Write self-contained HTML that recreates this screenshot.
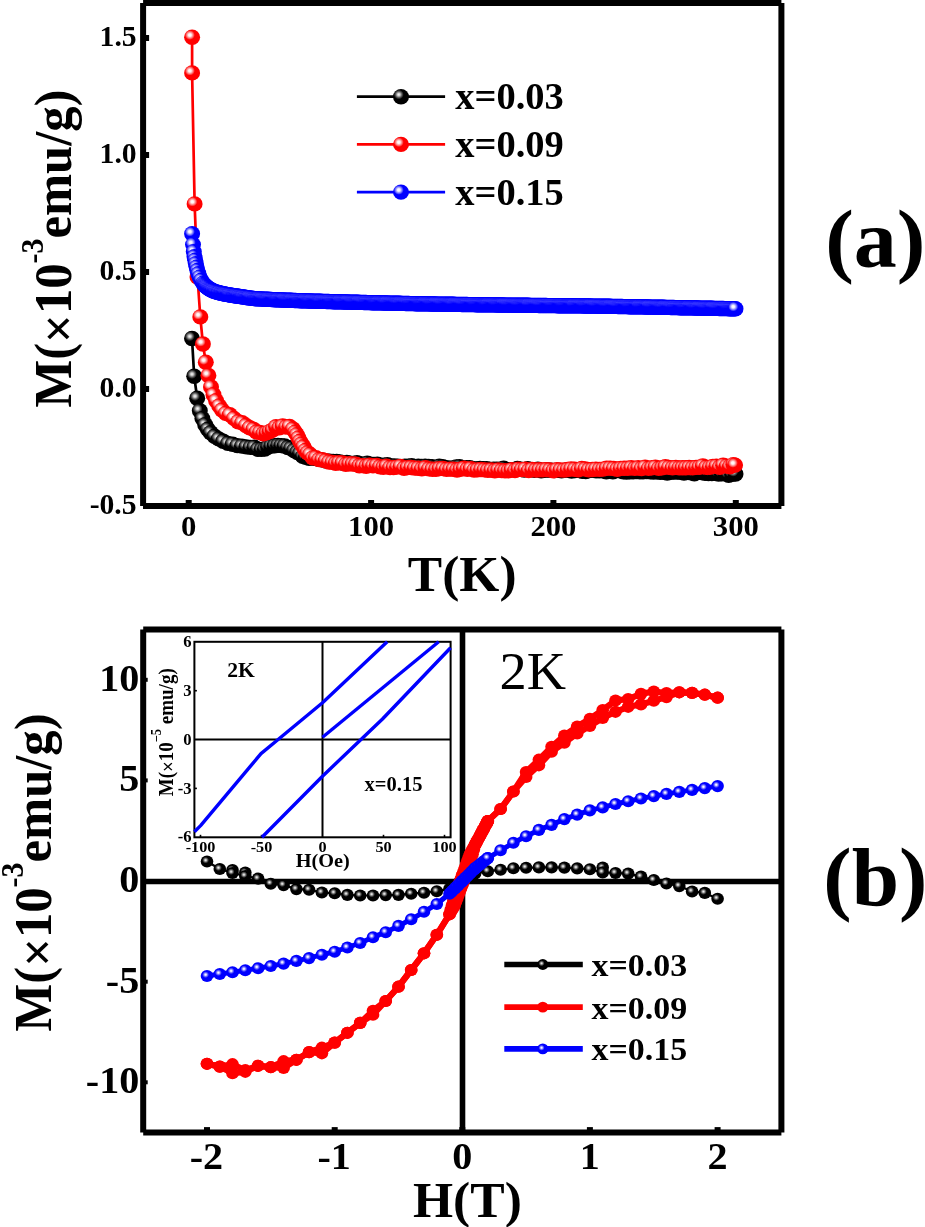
<!DOCTYPE html>
<html><head><meta charset="utf-8"><title>M-T and M-H curves</title>
<style>html,body{margin:0;padding:0;background:#fff;}body{width:925px;height:1227px;overflow:hidden;font-family:"Liberation Serif",serif;}svg{display:block;will-change:transform;}</style>
</head><body>
<svg width="925" height="1227" viewBox="0 0 925 1227" font-family="Liberation Serif, serif"><defs><radialGradient id="ra" cx="0.36" cy="0.36" fx="0.36" fy="0.36" r="0.31"><stop offset="0" stop-color="#fff"/><stop offset="0.28" stop-color="#fff0f0"/><stop offset="0.66" stop-color="#ff7a7a"/><stop offset="1" stop-color="#f00"/></radialGradient><radialGradient id="ka" cx="0.36" cy="0.36" fx="0.36" fy="0.36" r="0.31"><stop offset="0" stop-color="#f8f8f8"/><stop offset="0.28" stop-color="#cccccc"/><stop offset="0.66" stop-color="#555"/><stop offset="1" stop-color="#000"/></radialGradient><radialGradient id="ba" cx="0.36" cy="0.36" fx="0.36" fy="0.36" r="0.31"><stop offset="0" stop-color="#fff"/><stop offset="0.28" stop-color="#f0f0ff"/><stop offset="0.66" stop-color="#7a7aff"/><stop offset="1" stop-color="#00f"/></radialGradient><radialGradient id="kb" cx="0.39" cy="0.39" fx="0.39" fy="0.39" r="0.27"><stop offset="0" stop-color="#f4f4f4"/><stop offset="0.25" stop-color="#c8c8c8"/><stop offset="0.65" stop-color="#505050"/><stop offset="1" stop-color="#000"/></radialGradient><radialGradient id="bb" cx="0.39" cy="0.39" fx="0.39" fy="0.39" r="0.27"><stop offset="0" stop-color="#fff"/><stop offset="0.22" stop-color="#e6e6ff"/><stop offset="0.6" stop-color="#6a6aff"/><stop offset="1" stop-color="#00f"/></radialGradient></defs><line x1="143.1" y1="2.9" x2="143.1" y2="506" stroke="#000" stroke-width="6" stroke-linecap="butt"/>
<line x1="143.1" y1="506" x2="781.4" y2="506" stroke="#000" stroke-width="6" stroke-linecap="butt"/>
<line x1="781.4" y1="506" x2="781.4" y2="2.9" stroke="#000" stroke-width="6" stroke-linecap="butt"/>
<line x1="781.4" y1="2.9" x2="143.1" y2="2.9" stroke="#000" stroke-width="6" stroke-linecap="butt"/>
<line x1="188.7" y1="506" x2="188.7" y2="500" stroke="#000" stroke-width="6" stroke-linecap="butt"/>
<line x1="371.1" y1="506" x2="371.1" y2="500" stroke="#000" stroke-width="6" stroke-linecap="butt"/>
<line x1="553.4" y1="506" x2="553.4" y2="500" stroke="#000" stroke-width="6" stroke-linecap="butt"/>
<line x1="735.8" y1="506" x2="735.8" y2="500" stroke="#000" stroke-width="6" stroke-linecap="butt"/>
<line x1="143.1" y1="506" x2="149.1" y2="506" stroke="#000" stroke-width="6" stroke-linecap="butt"/>
<line x1="143.1" y1="389" x2="149.1" y2="389" stroke="#000" stroke-width="6" stroke-linecap="butt"/>
<line x1="143.1" y1="272" x2="149.1" y2="272" stroke="#000" stroke-width="6" stroke-linecap="butt"/>
<line x1="143.1" y1="155" x2="149.1" y2="155" stroke="#000" stroke-width="6" stroke-linecap="butt"/>
<line x1="143.1" y1="38" x2="149.1" y2="38" stroke="#000" stroke-width="6" stroke-linecap="butt"/>
<path d="M192 338.5 L194.2 376.3 L197.2 398.3 L199.8 410.8 L202.4 418.6 L205.2 424.8 L205.4 425.1 L205.6 425.5 L205.9 426 L206.3 426.5 L206.6 427.1 L207 427.7 L207.4 428.3 L207.8 428.9 L208.1 429.5 L208.5 430 L208.9 430.5 L209.2 431 L209.6 431.4 L209.9 431.9 L210.3 432.3 L210.7 432.8 L211.1 433.2 L211.4 433.6 L211.8 434 L212.2 434.4 L212.6 434.8 L213 435.1 L213.3 435.5 L213.7 435.8 L214.1 436.1 L214.5 436.4 L214.8 436.7 L215.2 437 L215.6 437.3 L216 437.6 L216.4 437.9 L216.8 438.1 L217.2 438.4 L217.5 438.6 L217.9 438.9 L218.3 439.1 L218.7 439.3 L219.1 439.6 L219.6 439.8 L220 440 L220.5 440.2 L220.9 440.4 L221.4 440.6 L221.9 440.9 L222.4 441.1 L223 441.3 L223.5 441.5 L224 441.6 L224.5 441.8 L225 442 L225.5 442.2 L225.9 442.3 L226.3 442.4 L226.8 442.6 L227.2 442.7 L227.6 442.8 L228.1 442.9 L228.7 443.1 L229.3 443.2 L230 443.4 L230.8 443.6 L231.7 443.8 L232.6 444 L233.6 444.2 L234.6 444.5 L235.7 444.7 L236.8 444.9 L237.9 445.2 L238.9 445.4 L240 445.6 L241.1 445.8 L242.1 446 L243.2 446.2 L244.3 446.3 L245.4 446.5 L246.6 446.7 L247.7 446.9 L248.8 447 L249.9 447.2 L251 447.4 L252.1 447.6 L253.2 447.8 L254.3 448.1 L255.4 448.3 L256.6 448.6 L257.7 448.8 L258.8 449 L259.9 449.1 L260.9 449.2 L262 449.2 L263 449.1 L264 449 L265 448.8 L266 448.5 L267 448.2 L268 447.9 L269 447.6 L270 447.3 L271 447 L272 446.8 L273.1 446.6 L274.1 446.4 L275.2 446.2 L276.3 446 L277.4 445.8 L278.6 445.6 L279.7 445.5 L280.8 445.4 L281.9 445.5 L283 445.6 L284.1 445.8 L285.2 446.1 L286.3 446.5 L287.4 447 L288.5 447.5 L289.6 448 L290.7 448.6 L291.8 449.2 L292.9 449.7 L294 450.3 L295.1 450.9 L296.2 451.5 L297.3 452.2 L298.4 452.9 L299.5 453.6 L300.6 454.3 L301.7 454.9 L302.8 455.6 L303.9 456.1 L305 456.6 L306.1 457 L307.2 457.3 L308.2 457.6 L309.3 457.9 L310.3 458.1 L311.4 458.2 L312.5 458.4 L313.6 458.6 L314.8 458.8 L316 459 L317.3 459.2 L318.6 459.5 L320 459.7 L321.4 459.9 L322.8 460.2 L324.3 460.4 L325.7 460.6 L327.2 460.8 L328.6 461 L330 461.2 L331.3 461.4 L332.3 461.5 L333.2 461.6 L334 461.7 L334.9 461.9 L336 462 L337.4 462.1 L339.1 462.2 L341.3 462.4 L344 462.6 L347.4 462.8 L351.3 463.1 L355.6 463.4 L360.4 463.7 L365.4 464 L370.5 464.3 L375.8 464.7 L381 465 L386.1 465.2 L391 465.5 L395.8 465.7 L400.6 465.9 L405.4 466.1 L410.2 466.3 L415 466.5 L419.8 466.7 L424.6 466.8 L429.4 467 L434.2 467.1 L439 467.3 L443.7 467.5 L448.4 467.6 L453.1 467.7 L457.8 467.9 L462.5 468 L467.2 468.1 L471.9 468.2 L476.6 468.4 L481.3 468.5 L486 468.6 L490.7 468.7 L495.2 468.8 L499.7 469 L504.2 469.1 L508.8 469.2 L513.4 469.3 L518.2 469.4 L523.2 469.6 L528.4 469.7 L534 469.8 L539.9 469.9 L546.1 470 L552.5 470.2 L559.2 470.3 L566 470.4 L572.9 470.5 L579.9 470.6 L587 470.8 L594 470.9 L601 471 L608 471.1 L615.2 471.2 L622.5 471.3 L629.9 471.4 L637.3 471.5 L644.6 471.7 L651.9 471.8 L659.1 471.9 L666.2 472 L673 472.2 L679.9 472.4 L687.1 472.6 L694.4 472.8 L701.7 473.1 L708.8 473.3 L715.5 473.6 L721.6 473.8 L727.2 474 L731.8 474.2 L735.5 474.3" fill="none" stroke="#000" stroke-width="2.7" stroke-linejoin="round"/>
<g fill="url(#ka)"><ellipse cx="192" cy="338.5" rx="8.0" ry="7.7"/><ellipse cx="194.2" cy="376.3" rx="8.0" ry="7.7"/><ellipse cx="197.2" cy="398.3" rx="8.0" ry="7.7"/><ellipse cx="199.8" cy="410.8" rx="8.0" ry="7.7"/><ellipse cx="202.4" cy="418.6" rx="8.0" ry="7.7"/><ellipse cx="205.2" cy="424.7" rx="8.0" ry="7.7"/><ellipse cx="207.8" cy="429.2" rx="8.0" ry="7.7"/><ellipse cx="210.7" cy="432.7" rx="8.0" ry="7.7"/><ellipse cx="214.5" cy="436.3" rx="8.0" ry="7.7"/><ellipse cx="218.7" cy="438.9" rx="8.0" ry="7.7"/><ellipse cx="223.2" cy="441.3" rx="8.0" ry="7.7"/><ellipse cx="227.9" cy="443.4" rx="8.0" ry="7.7"/><ellipse cx="232.6" cy="444.2" rx="8.0" ry="7.7"/><ellipse cx="237.3" cy="445.6" rx="8.0" ry="7.7"/><ellipse cx="241.9" cy="446.1" rx="8.0" ry="7.7"/><ellipse cx="246.3" cy="446.9" rx="8.0" ry="7.7"/><ellipse cx="250.4" cy="447.4" rx="8.0" ry="7.7"/><ellipse cx="254.3" cy="447.2" rx="8.0" ry="7.7"/><ellipse cx="257.9" cy="449.3" rx="8.0" ry="7.7"/><ellipse cx="261.5" cy="449.4" rx="8.0" ry="7.7"/><ellipse cx="264.8" cy="449.1" rx="8.0" ry="7.7"/><ellipse cx="268" cy="447" rx="8.0" ry="7.7"/><ellipse cx="271.2" cy="446.1" rx="8.0" ry="7.7"/><ellipse cx="274.7" cy="445.8" rx="8.0" ry="7.7"/><ellipse cx="278" cy="445.4" rx="8.0" ry="7.7"/><ellipse cx="281.3" cy="445.6" rx="8.0" ry="7.7"/><ellipse cx="284.6" cy="446" rx="8.0" ry="7.7"/><ellipse cx="287.9" cy="447.5" rx="8.0" ry="7.7"/><ellipse cx="291" cy="448.4" rx="8.0" ry="7.7"/><ellipse cx="294" cy="450.5" rx="8.0" ry="7.7"/><ellipse cx="297.1" cy="452.3" rx="8.0" ry="7.7"/><ellipse cx="299.9" cy="453.5" rx="8.0" ry="7.7"/><ellipse cx="302.8" cy="456.4" rx="8.0" ry="7.7"/><ellipse cx="305.8" cy="457.2" rx="8.0" ry="7.7"/><ellipse cx="309" cy="458.4" rx="8.0" ry="7.7"/><ellipse cx="312.5" cy="458.1" rx="8.0" ry="7.7"/><ellipse cx="316" cy="458.6" rx="8.0" ry="7.7"/><ellipse cx="319.4" cy="459.4" rx="8.0" ry="7.7"/><ellipse cx="322.8" cy="460.1" rx="8.0" ry="7.7"/><ellipse cx="326.3" cy="461" rx="8.0" ry="7.7"/><ellipse cx="329.7" cy="461.3" rx="8.0" ry="7.7"/><ellipse cx="333.2" cy="461.4" rx="8.0" ry="7.7"/><ellipse cx="336.6" cy="461.5" rx="8.0" ry="7.7"/><ellipse cx="339.9" cy="462" rx="8.0" ry="7.7"/><ellipse cx="343.5" cy="463.2" rx="8.0" ry="7.7"/><ellipse cx="346.8" cy="462.4" rx="8.0" ry="7.7"/><ellipse cx="350.2" cy="463.2" rx="8.0" ry="7.7"/><ellipse cx="353.6" cy="463.5" rx="8.0" ry="7.7"/><ellipse cx="357" cy="462.7" rx="8.0" ry="7.7"/><ellipse cx="360.4" cy="463.7" rx="8.0" ry="7.7"/><ellipse cx="363.9" cy="464.6" rx="8.0" ry="7.7"/><ellipse cx="367.2" cy="463.1" rx="8.0" ry="7.7"/><ellipse cx="370.5" cy="464.2" rx="8.0" ry="7.7"/><ellipse cx="374" cy="464.5" rx="8.0" ry="7.7"/><ellipse cx="377.4" cy="464.3" rx="8.0" ry="7.7"/><ellipse cx="380.7" cy="465.2" rx="8.0" ry="7.7"/><ellipse cx="384.1" cy="465.1" rx="8.0" ry="7.7"/><ellipse cx="387.4" cy="464.6" rx="8.0" ry="7.7"/><ellipse cx="390.7" cy="465.9" rx="8.0" ry="7.7"/><ellipse cx="394.3" cy="466" rx="8.0" ry="7.7"/><ellipse cx="397.8" cy="466.3" rx="8.0" ry="7.7"/><ellipse cx="401.3" cy="466.7" rx="8.0" ry="7.7"/><ellipse cx="404.9" cy="466.3" rx="8.0" ry="7.7"/><ellipse cx="408.4" cy="466.3" rx="8.0" ry="7.7"/><ellipse cx="411.7" cy="465.7" rx="8.0" ry="7.7"/><ellipse cx="415" cy="466.8" rx="8.0" ry="7.7"/><ellipse cx="418.3" cy="466.3" rx="8.0" ry="7.7"/><ellipse cx="421.6" cy="466.5" rx="8.0" ry="7.7"/><ellipse cx="425.1" cy="466.2" rx="8.0" ry="7.7"/><ellipse cx="428.7" cy="466.5" rx="8.0" ry="7.7"/><ellipse cx="432.2" cy="466.8" rx="8.0" ry="7.7"/><ellipse cx="435.7" cy="467.8" rx="8.0" ry="7.7"/><ellipse cx="439.3" cy="466.3" rx="8.0" ry="7.7"/><ellipse cx="442.7" cy="466.7" rx="8.0" ry="7.7"/><ellipse cx="446.1" cy="467.6" rx="8.0" ry="7.7"/><ellipse cx="449.5" cy="468.3" rx="8.0" ry="7.7"/><ellipse cx="452.9" cy="468" rx="8.0" ry="7.7"/><ellipse cx="456.3" cy="466.9" rx="8.0" ry="7.7"/><ellipse cx="459.6" cy="466.7" rx="8.0" ry="7.7"/><ellipse cx="463" cy="468.2" rx="8.0" ry="7.7"/><ellipse cx="466.4" cy="467.7" rx="8.0" ry="7.7"/><ellipse cx="469.8" cy="467.6" rx="8.0" ry="7.7"/><ellipse cx="473.2" cy="468.8" rx="8.0" ry="7.7"/><ellipse cx="476.6" cy="468.9" rx="8.0" ry="7.7"/><ellipse cx="480" cy="468.5" rx="8.0" ry="7.7"/><ellipse cx="483.4" cy="468.7" rx="8.0" ry="7.7"/><ellipse cx="486.8" cy="468.8" rx="8.0" ry="7.7"/><ellipse cx="490.2" cy="469.5" rx="8.0" ry="7.7"/><ellipse cx="493.5" cy="469.1" rx="8.0" ry="7.7"/><ellipse cx="496.8" cy="469.1" rx="8.0" ry="7.7"/><ellipse cx="500.3" cy="469.3" rx="8.0" ry="7.7"/><ellipse cx="503.7" cy="468.3" rx="8.0" ry="7.7"/><ellipse cx="507.2" cy="469.8" rx="8.0" ry="7.7"/><ellipse cx="510.6" cy="469.7" rx="8.0" ry="7.7"/><ellipse cx="513.9" cy="469.6" rx="8.0" ry="7.7"/><ellipse cx="517.4" cy="468.4" rx="8.0" ry="7.7"/><ellipse cx="520.8" cy="469.2" rx="8.0" ry="7.7"/><ellipse cx="524.2" cy="470" rx="8.0" ry="7.7"/><ellipse cx="527.7" cy="468.8" rx="8.0" ry="7.7"/><ellipse cx="531.2" cy="469.6" rx="8.0" ry="7.7"/><ellipse cx="534.5" cy="470.3" rx="8.0" ry="7.7"/><ellipse cx="537.9" cy="469.2" rx="8.0" ry="7.7"/><ellipse cx="541.2" cy="470.8" rx="8.0" ry="7.7"/><ellipse cx="544.6" cy="470.3" rx="8.0" ry="7.7"/><ellipse cx="547.9" cy="470" rx="8.0" ry="7.7"/><ellipse cx="551.3" cy="470.3" rx="8.0" ry="7.7"/><ellipse cx="554.6" cy="470.5" rx="8.0" ry="7.7"/><ellipse cx="557.9" cy="470.3" rx="8.0" ry="7.7"/><ellipse cx="561.5" cy="470.9" rx="8.0" ry="7.7"/><ellipse cx="565" cy="470.1" rx="8.0" ry="7.7"/><ellipse cx="568.3" cy="470.2" rx="8.0" ry="7.7"/><ellipse cx="571.6" cy="471" rx="8.0" ry="7.7"/><ellipse cx="575.2" cy="470.6" rx="8.0" ry="7.7"/><ellipse cx="578.7" cy="470.2" rx="8.0" ry="7.7"/><ellipse cx="582.2" cy="471.2" rx="8.0" ry="7.7"/><ellipse cx="585.7" cy="471.5" rx="8.0" ry="7.7"/><ellipse cx="589.2" cy="470.6" rx="8.0" ry="7.7"/><ellipse cx="592.8" cy="470.2" rx="8.0" ry="7.7"/><ellipse cx="596.1" cy="470.8" rx="8.0" ry="7.7"/><ellipse cx="599.4" cy="470.9" rx="8.0" ry="7.7"/><ellipse cx="602.8" cy="470.9" rx="8.0" ry="7.7"/><ellipse cx="606.3" cy="471.8" rx="8.0" ry="7.7"/><ellipse cx="609.6" cy="470.6" rx="8.0" ry="7.7"/><ellipse cx="612.9" cy="471.8" rx="8.0" ry="7.7"/><ellipse cx="616.2" cy="470.6" rx="8.0" ry="7.7"/><ellipse cx="619.8" cy="470.9" rx="8.0" ry="7.7"/><ellipse cx="623.3" cy="471.7" rx="8.0" ry="7.7"/><ellipse cx="626.6" cy="472" rx="8.0" ry="7.7"/><ellipse cx="629.9" cy="471.9" rx="8.0" ry="7.7"/><ellipse cx="633.2" cy="471.7" rx="8.0" ry="7.7"/><ellipse cx="636.5" cy="471.6" rx="8.0" ry="7.7"/><ellipse cx="639.8" cy="471.7" rx="8.0" ry="7.7"/><ellipse cx="643.1" cy="471.9" rx="8.0" ry="7.7"/><ellipse cx="646.7" cy="471.6" rx="8.0" ry="7.7"/><ellipse cx="650.2" cy="471.9" rx="8.0" ry="7.7"/><ellipse cx="653.5" cy="472.1" rx="8.0" ry="7.7"/><ellipse cx="656.8" cy="471.9" rx="8.0" ry="7.7"/><ellipse cx="660.1" cy="472.3" rx="8.0" ry="7.7"/><ellipse cx="663.7" cy="472.3" rx="8.0" ry="7.7"/><ellipse cx="667.2" cy="473.1" rx="8.0" ry="7.7"/><ellipse cx="670.7" cy="472.3" rx="8.0" ry="7.7"/><ellipse cx="674" cy="472" rx="8.0" ry="7.7"/><ellipse cx="677.4" cy="472.1" rx="8.0" ry="7.7"/><ellipse cx="680.7" cy="472.4" rx="8.0" ry="7.7"/><ellipse cx="684" cy="473" rx="8.0" ry="7.7"/><ellipse cx="687.4" cy="472.4" rx="8.0" ry="7.7"/><ellipse cx="690.9" cy="472.9" rx="8.0" ry="7.7"/><ellipse cx="694.4" cy="473.7" rx="8.0" ry="7.7"/><ellipse cx="697.9" cy="471.7" rx="8.0" ry="7.7"/><ellipse cx="701.4" cy="472.5" rx="8.0" ry="7.7"/><ellipse cx="705" cy="473.3" rx="8.0" ry="7.7"/><ellipse cx="708.5" cy="473.5" rx="8.0" ry="7.7"/><ellipse cx="711.8" cy="473.6" rx="8.0" ry="7.7"/><ellipse cx="715.2" cy="473.3" rx="8.0" ry="7.7"/><ellipse cx="718.5" cy="474" rx="8.0" ry="7.7"/><ellipse cx="721.9" cy="473.9" rx="8.0" ry="7.7"/><ellipse cx="725.4" cy="473.7" rx="8.0" ry="7.7"/><ellipse cx="728.7" cy="475.3" rx="8.0" ry="7.7"/><ellipse cx="732.1" cy="474.4" rx="8.0" ry="7.7"/><ellipse cx="735.5" cy="474" rx="8.0" ry="7.7"/></g>
<path d="M192.1 37.2 L192.1 72.9 L194.6 203.9 L197.5 277 L200.3 316.9 L202.9 344 L205.8 362.2 L208.4 375.5 L211 387 L213.5 394.7 L216.1 400.7 L219.2 405.9 L219.4 406.2 L219.7 406.6 L220 407.1 L220.3 407.6 L220.7 408.2 L221.1 408.7 L221.5 409.3 L221.9 409.9 L222.2 410.4 L222.6 410.8 L222.9 411.2 L223.3 411.5 L223.6 411.8 L224 412.1 L224.3 412.4 L224.6 412.6 L225 412.9 L225.3 413.2 L225.7 413.4 L226.1 413.7 L226.5 414 L226.9 414.3 L227.3 414.6 L227.8 414.8 L228.2 415.1 L228.7 415.4 L229.1 415.7 L229.6 416 L230 416.2 L230.4 416.5 L230.8 416.8 L231.2 417 L231.6 417.2 L231.9 417.5 L232.3 417.7 L232.7 417.9 L233.1 418.2 L233.5 418.4 L233.9 418.6 L234.3 418.9 L234.7 419.2 L235.2 419.4 L235.7 419.7 L236.2 420 L236.7 420.3 L237.2 420.6 L237.7 420.9 L238.2 421.2 L238.6 421.4 L239.1 421.7 L239.6 422 L240 422.2 L240.4 422.4 L240.9 422.7 L241.3 422.9 L241.7 423.2 L242.1 423.4 L242.5 423.6 L243 423.9 L243.4 424.1 L243.8 424.3 L244.2 424.6 L244.7 424.8 L245.1 425.1 L245.5 425.3 L245.9 425.6 L246.3 425.8 L246.8 426 L247.2 426.3 L247.7 426.5 L248.2 426.7 L248.7 426.9 L249.2 427.1 L249.7 427.3 L250.2 427.5 L250.8 427.7 L251.3 427.9 L251.8 428.1 L252.4 428.3 L252.9 428.6 L253.4 428.9 L254 429.3 L254.5 429.7 L255 430.1 L255.6 430.5 L256.1 430.9 L256.6 431.3 L257.1 431.7 L257.6 432 L258.1 432.3 L258.6 432.6 L259 432.8 L259.4 433 L259.9 433.3 L260.3 433.5 L260.7 433.6 L261.1 433.8 L261.5 433.9 L262 434 L262.4 434 L262.8 434 L263.3 434 L263.7 433.9 L264.2 433.8 L264.6 433.7 L265 433.6 L265.5 433.4 L266 433.2 L266.5 433 L267 432.8 L267.5 432.5 L268.1 432.2 L268.7 431.9 L269.3 431.5 L269.9 431.1 L270.5 430.7 L271.2 430.3 L271.8 429.9 L272.4 429.6 L273 429.3 L273.6 429 L274.2 428.8 L274.8 428.5 L275.4 428.3 L276 428.1 L276.6 427.9 L277.2 427.8 L277.8 427.6 L278.4 427.4 L279 427.3 L279.6 427.2 L280.2 427.1 L280.8 427 L281.4 426.9 L282.1 426.8 L282.7 426.7 L283.3 426.7 L283.9 426.6 L284.4 426.6 L285 426.6 L285.5 426.6 L286.1 426.6 L286.6 426.6 L287.1 426.7 L287.6 426.7 L288.1 426.8 L288.6 426.9 L289.1 427 L289.5 427.1 L290 427.3 L290.4 427.5 L290.9 427.7 L291.3 427.9 L291.7 428.1 L292.1 428.3 L292.5 428.6 L292.9 428.9 L293.2 429.2 L293.6 429.6 L294 430 L294.4 430.5 L294.7 431 L295.1 431.5 L295.4 432.1 L295.8 432.7 L296.1 433.4 L296.5 434 L296.8 434.7 L297.2 435.3 L297.5 436 L297.8 436.7 L298.2 437.3 L298.5 438 L298.8 438.7 L299.2 439.4 L299.5 440.2 L299.9 440.9 L300.2 441.6 L300.6 442.3 L301 443 L301.4 443.7 L301.9 444.4 L302.3 445.2 L302.8 445.9 L303.3 446.6 L303.8 447.3 L304.2 448 L304.7 448.7 L305.2 449.4 L305.7 450 L306.2 450.6 L306.6 451.2 L307.1 451.7 L307.6 452.2 L308 452.7 L308.5 453.2 L309 453.7 L309.5 454.1 L310 454.6 L310.5 455 L311 455.4 L311.6 455.8 L312.2 456.2 L312.8 456.6 L313.4 456.9 L314 457.2 L314.6 457.6 L315.2 457.9 L315.9 458.1 L316.5 458.4 L317.1 458.6 L317.8 458.8 L318.4 459 L319 459.2 L319.7 459.3 L320.3 459.4 L321 459.6 L321.7 459.7 L322.3 459.8 L323 460 L323.6 460.2 L324.3 460.3 L324.8 460.5 L325.4 460.7 L326 460.9 L326.7 461 L327.4 461.2 L328.1 461.4 L329 461.6 L330 461.8 L331 462 L331.8 462.2 L332.6 462.4 L333.5 462.6 L334.5 462.8 L335.7 463 L337.2 463.2 L339 463.4 L341.2 463.7 L344 463.9 L347.4 464.2 L351.3 464.5 L355.6 464.8 L360.4 465.1 L365.4 465.4 L370.5 465.7 L375.8 466.1 L381 466.4 L386.1 466.6 L391 466.9 L395.8 467.1 L400.5 467.3 L405.3 467.5 L410.2 467.7 L415 467.9 L419.8 468.1 L424.6 468.2 L429.4 468.4 L434.2 468.5 L439 468.7 L443.8 468.8 L448.5 469 L453.3 469.1 L458 469.3 L462.8 469.4 L467.5 469.5 L472.3 469.6 L477 469.7 L481.8 469.8 L486.5 469.9 L491.1 470 L495.3 470 L499.4 470.1 L503.4 470.1 L507.5 470.1 L511.9 470.1 L516.6 470.1 L521.7 470.1 L527.5 470.1 L534 470 L541.5 469.9 L550.1 469.8 L559.5 469.7 L569.3 469.5 L579.5 469.4 L589.6 469.2 L599.5 469 L608.9 468.9 L617.4 468.7 L625 468.6 L631.5 468.5 L637.4 468.4 L642.6 468.3 L647.3 468.2 L651.8 468.2 L655.9 468.1 L660 468 L664.2 467.9 L668.4 467.8 L673 467.7 L677.9 467.6 L683 467.5 L688.2 467.3 L693.4 467.2 L698.6 467 L703.5 466.9 L708.3 466.7 L712.7 466.6 L716.6 466.4 L720 466.3 L722.9 466.1 L725.3 466 L727.4 465.8 L729.1 465.6 L730.5 465.5 L731.7 465.3 L732.7 465.1 L733.6 465 L734.3 464.9 L735.1 464.8" fill="none" stroke="#f00" stroke-width="2.7" stroke-linejoin="round"/>
<g fill="url(#ra)"><ellipse cx="192.1" cy="37.2" rx="8.0" ry="7.7"/><ellipse cx="192.1" cy="72.9" rx="8.0" ry="7.7"/><ellipse cx="194.6" cy="203.9" rx="8.0" ry="7.7"/><ellipse cx="197.5" cy="277" rx="8.0" ry="7.7"/><ellipse cx="200.3" cy="316.9" rx="8.0" ry="7.7"/><ellipse cx="202.9" cy="344" rx="8.0" ry="7.7"/><ellipse cx="205.8" cy="362.2" rx="8.0" ry="7.7"/><ellipse cx="208.4" cy="375.5" rx="8.0" ry="7.7"/><ellipse cx="211" cy="387" rx="8.0" ry="7.7"/><ellipse cx="213.5" cy="394.7" rx="8.0" ry="7.7"/><ellipse cx="216.1" cy="400.7" rx="8.0" ry="7.7"/><ellipse cx="219.2" cy="405.9" rx="8.0" ry="7.7"/><ellipse cx="222" cy="410" rx="8.0" ry="7.7"/><ellipse cx="225.7" cy="413.4" rx="8.0" ry="7.7"/><ellipse cx="229.8" cy="414.7" rx="8.0" ry="7.7"/><ellipse cx="233.9" cy="418.4" rx="8.0" ry="7.7"/><ellipse cx="238.2" cy="421.7" rx="8.0" ry="7.7"/><ellipse cx="242.1" cy="422.8" rx="8.0" ry="7.7"/><ellipse cx="245.9" cy="425.5" rx="8.0" ry="7.7"/><ellipse cx="249.7" cy="427.8" rx="8.0" ry="7.7"/><ellipse cx="253.4" cy="429.3" rx="8.0" ry="7.7"/><ellipse cx="256.6" cy="432" rx="8.0" ry="7.7"/><ellipse cx="259.9" cy="432.4" rx="8.0" ry="7.7"/><ellipse cx="263.3" cy="433.8" rx="8.0" ry="7.7"/><ellipse cx="266.5" cy="432.9" rx="8.0" ry="7.7"/><ellipse cx="269.6" cy="431.6" rx="8.0" ry="7.7"/><ellipse cx="272.7" cy="430" rx="8.0" ry="7.7"/><ellipse cx="276" cy="426.8" rx="8.0" ry="7.7"/><ellipse cx="279.3" cy="427.8" rx="8.0" ry="7.7"/><ellipse cx="282.7" cy="426" rx="8.0" ry="7.7"/><ellipse cx="286.1" cy="427" rx="8.0" ry="7.7"/><ellipse cx="289.5" cy="426.4" rx="8.0" ry="7.7"/><ellipse cx="292.9" cy="429" rx="8.0" ry="7.7"/><ellipse cx="295.1" cy="432.1" rx="8.0" ry="7.7"/><ellipse cx="296.8" cy="434.6" rx="8.0" ry="7.7"/><ellipse cx="298.4" cy="437.9" rx="8.0" ry="7.7"/><ellipse cx="299.9" cy="441.3" rx="8.0" ry="7.7"/><ellipse cx="301.6" cy="444" rx="8.0" ry="7.7"/><ellipse cx="303.4" cy="446.8" rx="8.0" ry="7.7"/><ellipse cx="305.4" cy="450.4" rx="8.0" ry="7.7"/><ellipse cx="307.6" cy="452.7" rx="8.0" ry="7.7"/><ellipse cx="310" cy="454.4" rx="8.0" ry="7.7"/><ellipse cx="312.8" cy="457.9" rx="8.0" ry="7.7"/><ellipse cx="315.9" cy="457.6" rx="8.0" ry="7.7"/><ellipse cx="319" cy="459.6" rx="8.0" ry="7.7"/><ellipse cx="322.3" cy="459.7" rx="8.0" ry="7.7"/><ellipse cx="325.7" cy="460.8" rx="8.0" ry="7.7"/><ellipse cx="329" cy="462" rx="8.0" ry="7.7"/><ellipse cx="332.4" cy="462.4" rx="8.0" ry="7.7"/><ellipse cx="335.7" cy="463.3" rx="8.0" ry="7.7"/><ellipse cx="339" cy="462.7" rx="8.0" ry="7.7"/><ellipse cx="342.5" cy="463" rx="8.0" ry="7.7"/><ellipse cx="345.8" cy="464.4" rx="8.0" ry="7.7"/><ellipse cx="349.2" cy="463.8" rx="8.0" ry="7.7"/><ellipse cx="352.6" cy="464" rx="8.0" ry="7.7"/><ellipse cx="355.9" cy="464.1" rx="8.0" ry="7.7"/><ellipse cx="359.3" cy="465.7" rx="8.0" ry="7.7"/><ellipse cx="362.6" cy="465.6" rx="8.0" ry="7.7"/><ellipse cx="366.2" cy="466.2" rx="8.0" ry="7.7"/><ellipse cx="369.5" cy="465.2" rx="8.0" ry="7.7"/><ellipse cx="373" cy="465.9" rx="8.0" ry="7.7"/><ellipse cx="376.6" cy="465.5" rx="8.0" ry="7.7"/><ellipse cx="380" cy="466.7" rx="8.0" ry="7.7"/><ellipse cx="383.3" cy="467.3" rx="8.0" ry="7.7"/><ellipse cx="386.6" cy="466.2" rx="8.0" ry="7.7"/><ellipse cx="390" cy="467.6" rx="8.0" ry="7.7"/><ellipse cx="393.5" cy="467.5" rx="8.0" ry="7.7"/><ellipse cx="397" cy="467.1" rx="8.0" ry="7.7"/><ellipse cx="400.5" cy="466.4" rx="8.0" ry="7.7"/><ellipse cx="404.1" cy="468.2" rx="8.0" ry="7.7"/><ellipse cx="407.6" cy="467.6" rx="8.0" ry="7.7"/><ellipse cx="411.2" cy="467.5" rx="8.0" ry="7.7"/><ellipse cx="414.7" cy="468.1" rx="8.0" ry="7.7"/><ellipse cx="418.3" cy="468.2" rx="8.0" ry="7.7"/><ellipse cx="421.8" cy="468.9" rx="8.0" ry="7.7"/><ellipse cx="425.4" cy="467.8" rx="8.0" ry="7.7"/><ellipse cx="428.9" cy="468.9" rx="8.0" ry="7.7"/><ellipse cx="432.4" cy="469.2" rx="8.0" ry="7.7"/><ellipse cx="436" cy="469.3" rx="8.0" ry="7.7"/><ellipse cx="439.5" cy="468.6" rx="8.0" ry="7.7"/><ellipse cx="443" cy="468.5" rx="8.0" ry="7.7"/><ellipse cx="446.5" cy="469.4" rx="8.0" ry="7.7"/><ellipse cx="450" cy="469.1" rx="8.0" ry="7.7"/><ellipse cx="453.5" cy="469.2" rx="8.0" ry="7.7"/><ellipse cx="457" cy="470" rx="8.0" ry="7.7"/><ellipse cx="460.4" cy="469.2" rx="8.0" ry="7.7"/><ellipse cx="463.8" cy="468.3" rx="8.0" ry="7.7"/><ellipse cx="467.3" cy="469.3" rx="8.0" ry="7.7"/><ellipse cx="470.7" cy="468.7" rx="8.0" ry="7.7"/><ellipse cx="474.1" cy="470.1" rx="8.0" ry="7.7"/><ellipse cx="477.5" cy="469.9" rx="8.0" ry="7.7"/><ellipse cx="481" cy="469.5" rx="8.0" ry="7.7"/><ellipse cx="484.4" cy="469.9" rx="8.0" ry="7.7"/><ellipse cx="487.8" cy="470.3" rx="8.0" ry="7.7"/><ellipse cx="491.3" cy="470" rx="8.0" ry="7.7"/><ellipse cx="494.8" cy="470.7" rx="8.0" ry="7.7"/><ellipse cx="498.1" cy="470" rx="8.0" ry="7.7"/><ellipse cx="501.6" cy="470.6" rx="8.0" ry="7.7"/><ellipse cx="505" cy="470.8" rx="8.0" ry="7.7"/><ellipse cx="508.3" cy="470.9" rx="8.0" ry="7.7"/><ellipse cx="511.6" cy="469.8" rx="8.0" ry="7.7"/><ellipse cx="515" cy="470.6" rx="8.0" ry="7.7"/><ellipse cx="518.4" cy="469.2" rx="8.0" ry="7.7"/><ellipse cx="521.7" cy="469.6" rx="8.0" ry="7.7"/><ellipse cx="525.2" cy="469.1" rx="8.0" ry="7.7"/><ellipse cx="528.7" cy="470.6" rx="8.0" ry="7.7"/><ellipse cx="532.2" cy="469.4" rx="8.0" ry="7.7"/><ellipse cx="535.8" cy="470" rx="8.0" ry="7.7"/><ellipse cx="539.3" cy="469.8" rx="8.0" ry="7.7"/><ellipse cx="542.8" cy="469.9" rx="8.0" ry="7.7"/><ellipse cx="546.3" cy="469.6" rx="8.0" ry="7.7"/><ellipse cx="549.9" cy="469.9" rx="8.0" ry="7.7"/><ellipse cx="553.4" cy="470.7" rx="8.0" ry="7.7"/><ellipse cx="556.9" cy="469.7" rx="8.0" ry="7.7"/><ellipse cx="560.5" cy="469.9" rx="8.0" ry="7.7"/><ellipse cx="564" cy="470.1" rx="8.0" ry="7.7"/><ellipse cx="567.6" cy="469.5" rx="8.0" ry="7.7"/><ellipse cx="571.1" cy="468.9" rx="8.0" ry="7.7"/><ellipse cx="574.7" cy="469.2" rx="8.0" ry="7.7"/><ellipse cx="578.2" cy="469.9" rx="8.0" ry="7.7"/><ellipse cx="581.8" cy="468.5" rx="8.0" ry="7.7"/><ellipse cx="585.3" cy="469" rx="8.0" ry="7.7"/><ellipse cx="588.8" cy="469.7" rx="8.0" ry="7.7"/><ellipse cx="592.4" cy="469.5" rx="8.0" ry="7.7"/><ellipse cx="595.9" cy="469.1" rx="8.0" ry="7.7"/><ellipse cx="599.5" cy="469.4" rx="8.0" ry="7.7"/><ellipse cx="603" cy="469.1" rx="8.0" ry="7.7"/><ellipse cx="606.6" cy="468.3" rx="8.0" ry="7.7"/><ellipse cx="610.1" cy="468.1" rx="8.0" ry="7.7"/><ellipse cx="613.7" cy="468.5" rx="8.0" ry="7.7"/><ellipse cx="617.2" cy="469.2" rx="8.0" ry="7.7"/><ellipse cx="620.7" cy="468.4" rx="8.0" ry="7.7"/><ellipse cx="624.2" cy="468.2" rx="8.0" ry="7.7"/><ellipse cx="627.8" cy="468.2" rx="8.0" ry="7.7"/><ellipse cx="631.3" cy="467.7" rx="8.0" ry="7.7"/><ellipse cx="634.8" cy="468.4" rx="8.0" ry="7.7"/><ellipse cx="638.2" cy="467.8" rx="8.0" ry="7.7"/><ellipse cx="641.5" cy="468.5" rx="8.0" ry="7.7"/><ellipse cx="645.1" cy="467.1" rx="8.0" ry="7.7"/><ellipse cx="648.6" cy="468.4" rx="8.0" ry="7.7"/><ellipse cx="652" cy="467.8" rx="8.0" ry="7.7"/><ellipse cx="655.4" cy="467.1" rx="8.0" ry="7.7"/><ellipse cx="658.7" cy="468.4" rx="8.0" ry="7.7"/><ellipse cx="662.1" cy="467.8" rx="8.0" ry="7.7"/><ellipse cx="665.4" cy="466.8" rx="8.0" ry="7.7"/><ellipse cx="668.9" cy="467.4" rx="8.0" ry="7.7"/><ellipse cx="672.5" cy="467.9" rx="8.0" ry="7.7"/><ellipse cx="675.8" cy="467.4" rx="8.0" ry="7.7"/><ellipse cx="679.2" cy="467.9" rx="8.0" ry="7.7"/><ellipse cx="682.5" cy="467.8" rx="8.0" ry="7.7"/><ellipse cx="685.8" cy="467.7" rx="8.0" ry="7.7"/><ellipse cx="689.2" cy="467.5" rx="8.0" ry="7.7"/><ellipse cx="692.6" cy="467.9" rx="8.0" ry="7.7"/><ellipse cx="696" cy="467.4" rx="8.0" ry="7.7"/><ellipse cx="699.3" cy="467.2" rx="8.0" ry="7.7"/><ellipse cx="702.8" cy="465.9" rx="8.0" ry="7.7"/><ellipse cx="706.2" cy="467.3" rx="8.0" ry="7.7"/><ellipse cx="709.6" cy="467.4" rx="8.0" ry="7.7"/><ellipse cx="712.9" cy="466.4" rx="8.0" ry="7.7"/><ellipse cx="716.3" cy="466.2" rx="8.0" ry="7.7"/><ellipse cx="719.7" cy="467.3" rx="8.0" ry="7.7"/><ellipse cx="723.1" cy="465.2" rx="8.0" ry="7.7"/><ellipse cx="726.6" cy="466.1" rx="8.0" ry="7.7"/><ellipse cx="729.9" cy="466.7" rx="8.0" ry="7.7"/><ellipse cx="733.3" cy="464.6" rx="8.0" ry="7.7"/><ellipse cx="735.1" cy="465.1" rx="8.0" ry="7.7"/></g>
<path d="M192.1 233.8 L193 244.6 L193.8 251.6 L194.5 256.8 L194.5 257 L194.6 257.4 L194.7 257.7 L194.8 258.2 L194.8 258.6 L194.9 259.1 L195 259.6 L195.1 260.1 L195.2 260.5 L195.3 261 L195.4 261.4 L195.5 261.9 L195.6 262.3 L195.6 262.8 L195.7 263.2 L195.8 263.7 L195.9 264.1 L196 264.6 L196.1 265 L196.2 265.5 L196.3 265.9 L196.4 266.4 L196.5 266.8 L196.6 267.3 L196.7 267.7 L196.8 268.2 L196.9 268.6 L197.1 269.1 L197.2 269.5 L197.3 270 L197.4 270.5 L197.6 271 L197.7 271.5 L197.8 272 L198 272.5 L198.1 273 L198.3 273.5 L198.4 274 L198.6 274.5 L198.8 275 L199 275.5 L199.2 276 L199.4 276.5 L199.6 277 L199.8 277.5 L200 278 L200.3 278.5 L200.5 279 L200.7 279.5 L201 280 L201.3 280.5 L201.5 280.9 L201.8 281.4 L202.1 281.9 L202.4 282.3 L202.7 282.8 L203 283.2 L203.3 283.7 L203.7 284.1 L204 284.5 L204.4 284.9 L204.7 285.3 L205.1 285.6 L205.5 286 L205.9 286.4 L206.3 286.7 L206.7 287 L207.1 287.4 L207.6 287.7 L208 288 L208.5 288.3 L208.9 288.6 L209.4 288.9 L209.8 289.2 L210.3 289.5 L210.8 289.8 L211.3 290 L211.9 290.3 L212.4 290.5 L213 290.8 L213.6 291 L214.2 291.3 L214.9 291.5 L215.5 291.7 L216.2 292 L216.9 292.2 L217.6 292.4 L218.4 292.6 L219.2 292.8 L220 293 L220.9 293.2 L221.8 293.4 L222.8 293.6 L223.8 293.8 L224.8 294 L225.9 294.2 L226.9 294.4 L228 294.6 L229 294.8 L230 295 L231 295.2 L232 295.3 L233 295.5 L234 295.6 L235 295.8 L236 295.9 L237 296.1 L238 296.2 L239 296.4 L240 296.5 L241 296.7 L242 296.8 L243 297 L244 297.1 L245 297.3 L246 297.4 L247 297.6 L248 297.7 L249 297.9 L250 298 L250.9 298.1 L251.7 298.2 L252.4 298.3 L253 298.4 L253.8 298.5 L254.6 298.5 L255.5 298.6 L256.7 298.7 L258.2 298.8 L260 298.9 L262.1 299 L264.5 299.1 L267.2 299.3 L270 299.4 L273.1 299.6 L276.2 299.7 L279.6 299.9 L283 300 L286.5 300.2 L290 300.3 L293.5 300.4 L296.9 300.6 L300.2 300.7 L303.7 300.8 L307.3 300.9 L311.2 301 L315.4 301.2 L320.1 301.3 L325.2 301.4 L331 301.6 L337.4 301.8 L344.5 302 L352.1 302.2 L360.2 302.4 L368.6 302.6 L377.2 302.8 L385.9 303 L394.7 303.2 L403.4 303.4 L412 303.6 L420.4 303.8 L428.8 303.9 L437.3 304.1 L445.7 304.2 L454.3 304.3 L463 304.5 L471.9 304.6 L481 304.7 L490.4 304.9 L500 305 L510 305.1 L520.3 305.3 L530.9 305.4 L541.8 305.5 L552.8 305.6 L563.8 305.7 L575 305.9 L586.1 306 L597.1 306.1 L608 306.3 L619.2 306.5 L631 306.7 L643.2 306.9 L655.4 307.2 L667.5 307.4 L679.2 307.6 L690.1 307.9 L700.1 308.1 L708.8 308.3 L716 308.4 L721.6 308.5 L725.9 308.6 L729 308.7 L731.1 308.7 L732.5 308.7 L733.4 308.8 L733.9 308.8 L734.3 308.8 L734.7 308.8 L735.5 308.8" fill="none" stroke="#00f" stroke-width="2.7" stroke-linejoin="round"/>
<g fill="url(#ba)"><ellipse cx="192.1" cy="233.8" rx="8.0" ry="7.7"/><ellipse cx="193" cy="244.6" rx="8.0" ry="7.7"/><ellipse cx="193.8" cy="251.6" rx="8.0" ry="7.7"/><ellipse cx="194.5" cy="256.8" rx="8.0" ry="7.7"/><ellipse cx="195.2" cy="260.2" rx="8.0" ry="7.7"/><ellipse cx="195.8" cy="263.7" rx="8.0" ry="7.7"/><ellipse cx="196.6" cy="267.1" rx="8.0" ry="7.7"/><ellipse cx="197.4" cy="270.5" rx="8.0" ry="7.7"/><ellipse cx="198.4" cy="273.8" rx="8.0" ry="7.7"/><ellipse cx="199.6" cy="277.1" rx="8.0" ry="7.7"/><ellipse cx="201.2" cy="280.3" rx="8.0" ry="7.7"/><ellipse cx="203.1" cy="283.2" rx="8.0" ry="7.7"/><ellipse cx="204" cy="284.5" rx="8.0" ry="7.7"/><ellipse cx="204.8" cy="285.2" rx="8.0" ry="7.7"/><ellipse cx="205.6" cy="286" rx="8.0" ry="7.7"/><ellipse cx="206.4" cy="286.7" rx="8.0" ry="7.7"/><ellipse cx="207.3" cy="287.4" rx="8.0" ry="7.7"/><ellipse cx="208.1" cy="288.1" rx="8.0" ry="7.7"/><ellipse cx="209.1" cy="288.7" rx="8.0" ry="7.7"/><ellipse cx="210" cy="289.3" rx="8.0" ry="7.7"/><ellipse cx="211" cy="289.8" rx="8.0" ry="7.7"/><ellipse cx="211.9" cy="290.3" rx="8.0" ry="7.7"/><ellipse cx="212.9" cy="290.8" rx="8.0" ry="7.7"/><ellipse cx="214" cy="291.2" rx="8.0" ry="7.7"/><ellipse cx="215" cy="291.6" rx="8.0" ry="7.7"/><ellipse cx="216" cy="291.9" rx="8.0" ry="7.7"/><ellipse cx="217.1" cy="292.2" rx="8.0" ry="7.7"/><ellipse cx="218.2" cy="292.5" rx="8.0" ry="7.7"/><ellipse cx="219.2" cy="292.8" rx="8.0" ry="7.7"/><ellipse cx="220.3" cy="293.1" rx="8.0" ry="7.7"/><ellipse cx="221.4" cy="293.3" rx="8.0" ry="7.7"/><ellipse cx="222.4" cy="293.6" rx="8.0" ry="7.7"/><ellipse cx="223.5" cy="293.8" rx="8.0" ry="7.7"/><ellipse cx="224.6" cy="294" rx="8.0" ry="7.7"/><ellipse cx="225.7" cy="294.2" rx="8.0" ry="7.7"/><ellipse cx="226.7" cy="294.4" rx="8.0" ry="7.7"/><ellipse cx="227.8" cy="294.6" rx="8.0" ry="7.7"/><ellipse cx="228.9" cy="294.8" rx="8.0" ry="7.7"/><ellipse cx="230" cy="295" rx="8.0" ry="7.7"/><ellipse cx="231.1" cy="295.2" rx="8.0" ry="7.7"/><ellipse cx="232.2" cy="295.4" rx="8.0" ry="7.7"/><ellipse cx="233.3" cy="295.5" rx="8.0" ry="7.7"/><ellipse cx="234.3" cy="295.7" rx="8.0" ry="7.7"/><ellipse cx="235.4" cy="295.8" rx="8.0" ry="7.7"/><ellipse cx="236.5" cy="296" rx="8.0" ry="7.7"/><ellipse cx="237.6" cy="296.2" rx="8.0" ry="7.7"/><ellipse cx="238.7" cy="296.3" rx="8.0" ry="7.7"/><ellipse cx="239.8" cy="296.5" rx="8.0" ry="7.7"/><ellipse cx="240.9" cy="296.6" rx="8.0" ry="7.7"/><ellipse cx="242" cy="296.8" rx="8.0" ry="7.7"/><ellipse cx="243" cy="297" rx="8.0" ry="7.7"/><ellipse cx="244.1" cy="297.1" rx="8.0" ry="7.7"/><ellipse cx="245.2" cy="297.3" rx="8.0" ry="7.7"/><ellipse cx="246.3" cy="297.5" rx="8.0" ry="7.7"/><ellipse cx="247.4" cy="297.7" rx="8.0" ry="7.7"/><ellipse cx="248.5" cy="297.8" rx="8.0" ry="7.7"/><ellipse cx="249.6" cy="297.9" rx="8.0" ry="7.7"/><ellipse cx="250.7" cy="298.1" rx="8.0" ry="7.7"/><ellipse cx="251.8" cy="298.2" rx="8.0" ry="7.7"/><ellipse cx="252.8" cy="298.4" rx="8.0" ry="7.7"/><ellipse cx="253.9" cy="298.5" rx="8.0" ry="7.7"/><ellipse cx="255" cy="298.6" rx="8.0" ry="7.7"/><ellipse cx="256.1" cy="298.7" rx="8.0" ry="7.7"/><ellipse cx="257.2" cy="298.7" rx="8.0" ry="7.7"/><ellipse cx="258.3" cy="298.8" rx="8.0" ry="7.7"/><ellipse cx="259.4" cy="298.9" rx="8.0" ry="7.7"/><ellipse cx="260.5" cy="298.9" rx="8.0" ry="7.7"/><ellipse cx="261.6" cy="299" rx="8.0" ry="7.7"/><ellipse cx="262.7" cy="299.1" rx="8.0" ry="7.7"/><ellipse cx="263.8" cy="299.1" rx="8.0" ry="7.7"/><ellipse cx="264.9" cy="299.2" rx="8.0" ry="7.7"/><ellipse cx="266" cy="299.2" rx="8.0" ry="7.7"/><ellipse cx="267.1" cy="299.3" rx="8.0" ry="7.7"/><ellipse cx="268.2" cy="299.3" rx="8.0" ry="7.7"/><ellipse cx="269.3" cy="299.4" rx="8.0" ry="7.7"/><ellipse cx="270.4" cy="299.4" rx="8.0" ry="7.7"/><ellipse cx="271.5" cy="299.5" rx="8.0" ry="7.7"/><ellipse cx="272.6" cy="299.6" rx="8.0" ry="7.7"/><ellipse cx="273.7" cy="299.6" rx="8.0" ry="7.7"/><ellipse cx="274.8" cy="299.7" rx="8.0" ry="7.7"/><ellipse cx="275.9" cy="299.7" rx="8.0" ry="7.7"/><ellipse cx="277" cy="299.8" rx="8.0" ry="7.7"/><ellipse cx="278.1" cy="299.8" rx="8.0" ry="7.7"/><ellipse cx="279.2" cy="299.9" rx="8.0" ry="7.7"/><ellipse cx="280.3" cy="299.9" rx="8.0" ry="7.7"/><ellipse cx="281.4" cy="300" rx="8.0" ry="7.7"/><ellipse cx="282.5" cy="300" rx="8.0" ry="7.7"/><ellipse cx="283.6" cy="300" rx="8.0" ry="7.7"/><ellipse cx="284.7" cy="300.1" rx="8.0" ry="7.7"/><ellipse cx="285.8" cy="300.1" rx="8.0" ry="7.7"/><ellipse cx="286.9" cy="300.2" rx="8.0" ry="7.7"/><ellipse cx="288" cy="300.2" rx="8.0" ry="7.7"/><ellipse cx="289.1" cy="300.3" rx="8.0" ry="7.7"/><ellipse cx="290.2" cy="300.3" rx="8.0" ry="7.7"/><ellipse cx="291.3" cy="300.3" rx="8.0" ry="7.7"/><ellipse cx="292.4" cy="300.4" rx="8.0" ry="7.7"/><ellipse cx="293.5" cy="300.4" rx="8.0" ry="7.7"/><ellipse cx="294.6" cy="300.5" rx="8.0" ry="7.7"/><ellipse cx="295.7" cy="300.5" rx="8.0" ry="7.7"/><ellipse cx="296.8" cy="300.6" rx="8.0" ry="7.7"/><ellipse cx="297.9" cy="300.6" rx="8.0" ry="7.7"/><ellipse cx="299" cy="300.6" rx="8.0" ry="7.7"/><ellipse cx="300.1" cy="300.7" rx="8.0" ry="7.7"/><ellipse cx="301.2" cy="300.7" rx="8.0" ry="7.7"/><ellipse cx="302.3" cy="300.7" rx="8.0" ry="7.7"/><ellipse cx="303.4" cy="300.8" rx="8.0" ry="7.7"/><ellipse cx="304.5" cy="300.8" rx="8.0" ry="7.7"/><ellipse cx="305.6" cy="300.9" rx="8.0" ry="7.7"/><ellipse cx="306.7" cy="300.9" rx="8.0" ry="7.7"/><ellipse cx="307.8" cy="300.9" rx="8.0" ry="7.7"/><ellipse cx="308.9" cy="301" rx="8.0" ry="7.7"/><ellipse cx="310" cy="301" rx="8.0" ry="7.7"/><ellipse cx="311.1" cy="301" rx="8.0" ry="7.7"/><ellipse cx="312.2" cy="301.1" rx="8.0" ry="7.7"/><ellipse cx="313.3" cy="301.1" rx="8.0" ry="7.7"/><ellipse cx="314.4" cy="301.1" rx="8.0" ry="7.7"/><ellipse cx="315.5" cy="301.2" rx="8.0" ry="7.7"/><ellipse cx="316.6" cy="301.2" rx="8.0" ry="7.7"/><ellipse cx="317.7" cy="301.2" rx="8.0" ry="7.7"/><ellipse cx="318.8" cy="301.3" rx="8.0" ry="7.7"/><ellipse cx="319.9" cy="301.3" rx="8.0" ry="7.7"/><ellipse cx="321" cy="301.3" rx="8.0" ry="7.7"/><ellipse cx="322.1" cy="301.4" rx="8.0" ry="7.7"/><ellipse cx="323.2" cy="301.4" rx="8.0" ry="7.7"/><ellipse cx="324.3" cy="301.4" rx="8.0" ry="7.7"/><ellipse cx="325.4" cy="301.4" rx="8.0" ry="7.7"/><ellipse cx="326.5" cy="301.5" rx="8.0" ry="7.7"/><ellipse cx="327.6" cy="301.5" rx="8.0" ry="7.7"/><ellipse cx="328.7" cy="301.5" rx="8.0" ry="7.7"/><ellipse cx="329.8" cy="301.6" rx="8.0" ry="7.7"/><ellipse cx="330.9" cy="301.6" rx="8.0" ry="7.7"/><ellipse cx="332" cy="301.6" rx="8.0" ry="7.7"/><ellipse cx="333.1" cy="301.7" rx="8.0" ry="7.7"/><ellipse cx="334.2" cy="301.7" rx="8.0" ry="7.7"/><ellipse cx="335.3" cy="301.7" rx="8.0" ry="7.7"/><ellipse cx="336.4" cy="301.7" rx="8.0" ry="7.7"/><ellipse cx="337.5" cy="301.8" rx="8.0" ry="7.7"/><ellipse cx="338.6" cy="301.8" rx="8.0" ry="7.7"/><ellipse cx="339.7" cy="301.8" rx="8.0" ry="7.7"/><ellipse cx="340.8" cy="301.9" rx="8.0" ry="7.7"/><ellipse cx="341.9" cy="301.9" rx="8.0" ry="7.7"/><ellipse cx="343" cy="301.9" rx="8.0" ry="7.7"/><ellipse cx="344.1" cy="302" rx="8.0" ry="7.7"/><ellipse cx="345.2" cy="302" rx="8.0" ry="7.7"/><ellipse cx="346.3" cy="302" rx="8.0" ry="7.7"/><ellipse cx="347.4" cy="302" rx="8.0" ry="7.7"/><ellipse cx="348.5" cy="302.1" rx="8.0" ry="7.7"/><ellipse cx="349.6" cy="302.1" rx="8.0" ry="7.7"/><ellipse cx="350.7" cy="302.1" rx="8.0" ry="7.7"/><ellipse cx="351.8" cy="302.2" rx="8.0" ry="7.7"/><ellipse cx="352.9" cy="302.2" rx="8.0" ry="7.7"/><ellipse cx="354" cy="302.2" rx="8.0" ry="7.7"/><ellipse cx="355.1" cy="302.2" rx="8.0" ry="7.7"/><ellipse cx="356.2" cy="302.3" rx="8.0" ry="7.7"/><ellipse cx="357.3" cy="302.3" rx="8.0" ry="7.7"/><ellipse cx="358.4" cy="302.3" rx="8.0" ry="7.7"/><ellipse cx="359.5" cy="302.4" rx="8.0" ry="7.7"/><ellipse cx="360.6" cy="302.4" rx="8.0" ry="7.7"/><ellipse cx="361.7" cy="302.4" rx="8.0" ry="7.7"/><ellipse cx="362.8" cy="302.4" rx="8.0" ry="7.7"/><ellipse cx="363.9" cy="302.5" rx="8.0" ry="7.7"/><ellipse cx="365" cy="302.5" rx="8.0" ry="7.7"/><ellipse cx="366.1" cy="302.5" rx="8.0" ry="7.7"/><ellipse cx="367.2" cy="302.6" rx="8.0" ry="7.7"/><ellipse cx="368.3" cy="302.6" rx="8.0" ry="7.7"/><ellipse cx="369.4" cy="302.6" rx="8.0" ry="7.7"/><ellipse cx="370.5" cy="302.6" rx="8.0" ry="7.7"/><ellipse cx="371.6" cy="302.7" rx="8.0" ry="7.7"/><ellipse cx="372.7" cy="302.7" rx="8.0" ry="7.7"/><ellipse cx="373.8" cy="302.7" rx="8.0" ry="7.7"/><ellipse cx="374.9" cy="302.8" rx="8.0" ry="7.7"/><ellipse cx="376" cy="302.8" rx="8.0" ry="7.7"/><ellipse cx="377.1" cy="302.8" rx="8.0" ry="7.7"/><ellipse cx="378.2" cy="302.8" rx="8.0" ry="7.7"/><ellipse cx="379.3" cy="302.9" rx="8.0" ry="7.7"/><ellipse cx="380.4" cy="302.9" rx="8.0" ry="7.7"/><ellipse cx="381.5" cy="302.9" rx="8.0" ry="7.7"/><ellipse cx="382.6" cy="302.9" rx="8.0" ry="7.7"/><ellipse cx="383.7" cy="303" rx="8.0" ry="7.7"/><ellipse cx="384.8" cy="303" rx="8.0" ry="7.7"/><ellipse cx="385.9" cy="303" rx="8.0" ry="7.7"/><ellipse cx="387" cy="303" rx="8.0" ry="7.7"/><ellipse cx="388.1" cy="303.1" rx="8.0" ry="7.7"/><ellipse cx="389.2" cy="303.1" rx="8.0" ry="7.7"/><ellipse cx="390.3" cy="303.1" rx="8.0" ry="7.7"/><ellipse cx="391.4" cy="303.1" rx="8.0" ry="7.7"/><ellipse cx="392.5" cy="303.2" rx="8.0" ry="7.7"/><ellipse cx="393.6" cy="303.2" rx="8.0" ry="7.7"/><ellipse cx="394.7" cy="303.2" rx="8.0" ry="7.7"/><ellipse cx="395.7" cy="303.3" rx="8.0" ry="7.7"/><ellipse cx="396.8" cy="303.3" rx="8.0" ry="7.7"/><ellipse cx="397.9" cy="303.3" rx="8.0" ry="7.7"/><ellipse cx="399" cy="303.3" rx="8.0" ry="7.7"/><ellipse cx="400.1" cy="303.3" rx="8.0" ry="7.7"/><ellipse cx="401.2" cy="303.4" rx="8.0" ry="7.7"/><ellipse cx="402.3" cy="303.4" rx="8.0" ry="7.7"/><ellipse cx="403.4" cy="303.4" rx="8.0" ry="7.7"/><ellipse cx="404.5" cy="303.4" rx="8.0" ry="7.7"/><ellipse cx="405.6" cy="303.5" rx="8.0" ry="7.7"/><ellipse cx="406.7" cy="303.5" rx="8.0" ry="7.7"/><ellipse cx="407.8" cy="303.5" rx="8.0" ry="7.7"/><ellipse cx="408.9" cy="303.5" rx="8.0" ry="7.7"/><ellipse cx="410" cy="303.6" rx="8.0" ry="7.7"/><ellipse cx="411.1" cy="303.6" rx="8.0" ry="7.7"/><ellipse cx="412.2" cy="303.6" rx="8.0" ry="7.7"/><ellipse cx="413.3" cy="303.6" rx="8.0" ry="7.7"/><ellipse cx="414.4" cy="303.6" rx="8.0" ry="7.7"/><ellipse cx="415.5" cy="303.7" rx="8.0" ry="7.7"/><ellipse cx="416.6" cy="303.7" rx="8.0" ry="7.7"/><ellipse cx="417.7" cy="303.7" rx="8.0" ry="7.7"/><ellipse cx="418.8" cy="303.7" rx="8.0" ry="7.7"/><ellipse cx="419.9" cy="303.8" rx="8.0" ry="7.7"/><ellipse cx="421" cy="303.8" rx="8.0" ry="7.7"/><ellipse cx="422.1" cy="303.8" rx="8.0" ry="7.7"/><ellipse cx="423.2" cy="303.8" rx="8.0" ry="7.7"/><ellipse cx="424.3" cy="303.8" rx="8.0" ry="7.7"/><ellipse cx="425.4" cy="303.9" rx="8.0" ry="7.7"/><ellipse cx="426.5" cy="303.9" rx="8.0" ry="7.7"/><ellipse cx="427.6" cy="303.9" rx="8.0" ry="7.7"/><ellipse cx="428.7" cy="303.9" rx="8.0" ry="7.7"/><ellipse cx="429.8" cy="303.9" rx="8.0" ry="7.7"/><ellipse cx="430.9" cy="304" rx="8.0" ry="7.7"/><ellipse cx="432" cy="304" rx="8.0" ry="7.7"/><ellipse cx="433.1" cy="304" rx="8.0" ry="7.7"/><ellipse cx="434.2" cy="304" rx="8.0" ry="7.7"/><ellipse cx="435.3" cy="304" rx="8.0" ry="7.7"/><ellipse cx="436.4" cy="304.1" rx="8.0" ry="7.7"/><ellipse cx="437.5" cy="304.1" rx="8.0" ry="7.7"/><ellipse cx="438.6" cy="304.1" rx="8.0" ry="7.7"/><ellipse cx="439.7" cy="304.1" rx="8.0" ry="7.7"/><ellipse cx="440.8" cy="304.1" rx="8.0" ry="7.7"/><ellipse cx="441.9" cy="304.1" rx="8.0" ry="7.7"/><ellipse cx="443" cy="304.2" rx="8.0" ry="7.7"/><ellipse cx="444.1" cy="304.2" rx="8.0" ry="7.7"/><ellipse cx="445.2" cy="304.2" rx="8.0" ry="7.7"/><ellipse cx="446.3" cy="304.2" rx="8.0" ry="7.7"/><ellipse cx="447.4" cy="304.2" rx="8.0" ry="7.7"/><ellipse cx="448.5" cy="304.3" rx="8.0" ry="7.7"/><ellipse cx="449.6" cy="304.3" rx="8.0" ry="7.7"/><ellipse cx="450.7" cy="304.3" rx="8.0" ry="7.7"/><ellipse cx="451.8" cy="304.3" rx="8.0" ry="7.7"/><ellipse cx="452.9" cy="304.3" rx="8.0" ry="7.7"/><ellipse cx="454" cy="304.3" rx="8.0" ry="7.7"/><ellipse cx="455.1" cy="304.4" rx="8.0" ry="7.7"/><ellipse cx="456.2" cy="304.4" rx="8.0" ry="7.7"/><ellipse cx="457.3" cy="304.4" rx="8.0" ry="7.7"/><ellipse cx="458.4" cy="304.4" rx="8.0" ry="7.7"/><ellipse cx="459.5" cy="304.4" rx="8.0" ry="7.7"/><ellipse cx="460.6" cy="304.4" rx="8.0" ry="7.7"/><ellipse cx="461.7" cy="304.5" rx="8.0" ry="7.7"/><ellipse cx="462.8" cy="304.5" rx="8.0" ry="7.7"/><ellipse cx="463.9" cy="304.5" rx="8.0" ry="7.7"/><ellipse cx="465" cy="304.5" rx="8.0" ry="7.7"/><ellipse cx="466.1" cy="304.5" rx="8.0" ry="7.7"/><ellipse cx="467.2" cy="304.5" rx="8.0" ry="7.7"/><ellipse cx="468.3" cy="304.6" rx="8.0" ry="7.7"/><ellipse cx="469.4" cy="304.6" rx="8.0" ry="7.7"/><ellipse cx="470.5" cy="304.6" rx="8.0" ry="7.7"/><ellipse cx="471.6" cy="304.6" rx="8.0" ry="7.7"/><ellipse cx="472.7" cy="304.6" rx="8.0" ry="7.7"/><ellipse cx="473.8" cy="304.6" rx="8.0" ry="7.7"/><ellipse cx="474.9" cy="304.6" rx="8.0" ry="7.7"/><ellipse cx="476" cy="304.7" rx="8.0" ry="7.7"/><ellipse cx="477.1" cy="304.7" rx="8.0" ry="7.7"/><ellipse cx="478.2" cy="304.7" rx="8.0" ry="7.7"/><ellipse cx="479.3" cy="304.7" rx="8.0" ry="7.7"/><ellipse cx="480.4" cy="304.7" rx="8.0" ry="7.7"/><ellipse cx="481.5" cy="304.7" rx="8.0" ry="7.7"/><ellipse cx="482.6" cy="304.8" rx="8.0" ry="7.7"/><ellipse cx="483.7" cy="304.8" rx="8.0" ry="7.7"/><ellipse cx="484.8" cy="304.8" rx="8.0" ry="7.7"/><ellipse cx="485.9" cy="304.8" rx="8.0" ry="7.7"/><ellipse cx="487" cy="304.8" rx="8.0" ry="7.7"/><ellipse cx="488.1" cy="304.8" rx="8.0" ry="7.7"/><ellipse cx="489.2" cy="304.9" rx="8.0" ry="7.7"/><ellipse cx="490.3" cy="304.9" rx="8.0" ry="7.7"/><ellipse cx="491.4" cy="304.9" rx="8.0" ry="7.7"/><ellipse cx="492.5" cy="304.9" rx="8.0" ry="7.7"/><ellipse cx="493.6" cy="304.9" rx="8.0" ry="7.7"/><ellipse cx="494.7" cy="304.9" rx="8.0" ry="7.7"/><ellipse cx="495.8" cy="304.9" rx="8.0" ry="7.7"/><ellipse cx="496.9" cy="305" rx="8.0" ry="7.7"/><ellipse cx="498" cy="305" rx="8.0" ry="7.7"/><ellipse cx="499.1" cy="305" rx="8.0" ry="7.7"/><ellipse cx="500.2" cy="305" rx="8.0" ry="7.7"/><ellipse cx="501.3" cy="305" rx="8.0" ry="7.7"/><ellipse cx="502.4" cy="305" rx="8.0" ry="7.7"/><ellipse cx="503.5" cy="305" rx="8.0" ry="7.7"/><ellipse cx="504.6" cy="305.1" rx="8.0" ry="7.7"/><ellipse cx="505.7" cy="305.1" rx="8.0" ry="7.7"/><ellipse cx="506.8" cy="305.1" rx="8.0" ry="7.7"/><ellipse cx="507.9" cy="305.1" rx="8.0" ry="7.7"/><ellipse cx="509" cy="305.1" rx="8.0" ry="7.7"/><ellipse cx="510.1" cy="305.1" rx="8.0" ry="7.7"/><ellipse cx="511.2" cy="305.1" rx="8.0" ry="7.7"/><ellipse cx="512.3" cy="305.2" rx="8.0" ry="7.7"/><ellipse cx="513.4" cy="305.2" rx="8.0" ry="7.7"/><ellipse cx="514.5" cy="305.2" rx="8.0" ry="7.7"/><ellipse cx="515.6" cy="305.2" rx="8.0" ry="7.7"/><ellipse cx="516.7" cy="305.2" rx="8.0" ry="7.7"/><ellipse cx="517.8" cy="305.2" rx="8.0" ry="7.7"/><ellipse cx="518.9" cy="305.2" rx="8.0" ry="7.7"/><ellipse cx="520" cy="305.3" rx="8.0" ry="7.7"/><ellipse cx="521.1" cy="305.3" rx="8.0" ry="7.7"/><ellipse cx="522.2" cy="305.3" rx="8.0" ry="7.7"/><ellipse cx="523.3" cy="305.3" rx="8.0" ry="7.7"/><ellipse cx="524.4" cy="305.3" rx="8.0" ry="7.7"/><ellipse cx="525.5" cy="305.3" rx="8.0" ry="7.7"/><ellipse cx="526.6" cy="305.3" rx="8.0" ry="7.7"/><ellipse cx="527.7" cy="305.3" rx="8.0" ry="7.7"/><ellipse cx="528.8" cy="305.3" rx="8.0" ry="7.7"/><ellipse cx="529.9" cy="305.4" rx="8.0" ry="7.7"/><ellipse cx="531" cy="305.4" rx="8.0" ry="7.7"/><ellipse cx="532.1" cy="305.4" rx="8.0" ry="7.7"/><ellipse cx="533.2" cy="305.4" rx="8.0" ry="7.7"/><ellipse cx="534.3" cy="305.4" rx="8.0" ry="7.7"/><ellipse cx="535.4" cy="305.4" rx="8.0" ry="7.7"/><ellipse cx="536.5" cy="305.4" rx="8.0" ry="7.7"/><ellipse cx="537.6" cy="305.4" rx="8.0" ry="7.7"/><ellipse cx="538.7" cy="305.5" rx="8.0" ry="7.7"/><ellipse cx="539.8" cy="305.5" rx="8.0" ry="7.7"/><ellipse cx="540.9" cy="305.5" rx="8.0" ry="7.7"/><ellipse cx="542" cy="305.5" rx="8.0" ry="7.7"/><ellipse cx="543.1" cy="305.5" rx="8.0" ry="7.7"/><ellipse cx="544.2" cy="305.5" rx="8.0" ry="7.7"/><ellipse cx="545.3" cy="305.5" rx="8.0" ry="7.7"/><ellipse cx="546.4" cy="305.5" rx="8.0" ry="7.7"/><ellipse cx="547.5" cy="305.6" rx="8.0" ry="7.7"/><ellipse cx="548.6" cy="305.6" rx="8.0" ry="7.7"/><ellipse cx="549.7" cy="305.6" rx="8.0" ry="7.7"/><ellipse cx="550.8" cy="305.6" rx="8.0" ry="7.7"/><ellipse cx="551.9" cy="305.6" rx="8.0" ry="7.7"/><ellipse cx="553" cy="305.6" rx="8.0" ry="7.7"/><ellipse cx="554.1" cy="305.6" rx="8.0" ry="7.7"/><ellipse cx="555.2" cy="305.6" rx="8.0" ry="7.7"/><ellipse cx="556.3" cy="305.6" rx="8.0" ry="7.7"/><ellipse cx="557.4" cy="305.7" rx="8.0" ry="7.7"/><ellipse cx="558.5" cy="305.7" rx="8.0" ry="7.7"/><ellipse cx="559.6" cy="305.7" rx="8.0" ry="7.7"/><ellipse cx="560.7" cy="305.7" rx="8.0" ry="7.7"/><ellipse cx="561.8" cy="305.7" rx="8.0" ry="7.7"/><ellipse cx="562.9" cy="305.7" rx="8.0" ry="7.7"/><ellipse cx="564" cy="305.7" rx="8.0" ry="7.7"/><ellipse cx="565.1" cy="305.7" rx="8.0" ry="7.7"/><ellipse cx="566.2" cy="305.8" rx="8.0" ry="7.7"/><ellipse cx="567.3" cy="305.8" rx="8.0" ry="7.7"/><ellipse cx="568.4" cy="305.8" rx="8.0" ry="7.7"/><ellipse cx="569.5" cy="305.8" rx="8.0" ry="7.7"/><ellipse cx="570.6" cy="305.8" rx="8.0" ry="7.7"/><ellipse cx="571.7" cy="305.8" rx="8.0" ry="7.7"/><ellipse cx="572.8" cy="305.8" rx="8.0" ry="7.7"/><ellipse cx="573.9" cy="305.8" rx="8.0" ry="7.7"/><ellipse cx="575" cy="305.9" rx="8.0" ry="7.7"/><ellipse cx="576.1" cy="305.9" rx="8.0" ry="7.7"/><ellipse cx="577.2" cy="305.9" rx="8.0" ry="7.7"/><ellipse cx="578.3" cy="305.9" rx="8.0" ry="7.7"/><ellipse cx="579.4" cy="305.9" rx="8.0" ry="7.7"/><ellipse cx="580.5" cy="305.9" rx="8.0" ry="7.7"/><ellipse cx="581.6" cy="305.9" rx="8.0" ry="7.7"/><ellipse cx="582.7" cy="305.9" rx="8.0" ry="7.7"/><ellipse cx="583.8" cy="306" rx="8.0" ry="7.7"/><ellipse cx="584.9" cy="306" rx="8.0" ry="7.7"/><ellipse cx="586" cy="306" rx="8.0" ry="7.7"/><ellipse cx="587.1" cy="306" rx="8.0" ry="7.7"/><ellipse cx="588.2" cy="306" rx="8.0" ry="7.7"/><ellipse cx="589.3" cy="306" rx="8.0" ry="7.7"/><ellipse cx="590.4" cy="306" rx="8.0" ry="7.7"/><ellipse cx="591.5" cy="306.1" rx="8.0" ry="7.7"/><ellipse cx="592.6" cy="306.1" rx="8.0" ry="7.7"/><ellipse cx="593.7" cy="306.1" rx="8.0" ry="7.7"/><ellipse cx="594.8" cy="306.1" rx="8.0" ry="7.7"/><ellipse cx="595.9" cy="306.1" rx="8.0" ry="7.7"/><ellipse cx="597" cy="306.1" rx="8.0" ry="7.7"/><ellipse cx="598.1" cy="306.2" rx="8.0" ry="7.7"/><ellipse cx="599.2" cy="306.2" rx="8.0" ry="7.7"/><ellipse cx="600.3" cy="306.2" rx="8.0" ry="7.7"/><ellipse cx="601.4" cy="306.2" rx="8.0" ry="7.7"/><ellipse cx="602.5" cy="306.2" rx="8.0" ry="7.7"/><ellipse cx="603.6" cy="306.2" rx="8.0" ry="7.7"/><ellipse cx="604.7" cy="306.3" rx="8.0" ry="7.7"/><ellipse cx="605.8" cy="306.3" rx="8.0" ry="7.7"/><ellipse cx="606.9" cy="306.3" rx="8.0" ry="7.7"/><ellipse cx="608" cy="306.3" rx="8.0" ry="7.7"/><ellipse cx="609.1" cy="306.3" rx="8.0" ry="7.7"/><ellipse cx="610.2" cy="306.3" rx="8.0" ry="7.7"/><ellipse cx="611.3" cy="306.4" rx="8.0" ry="7.7"/><ellipse cx="612.4" cy="306.4" rx="8.0" ry="7.7"/><ellipse cx="613.5" cy="306.4" rx="8.0" ry="7.7"/><ellipse cx="614.6" cy="306.4" rx="8.0" ry="7.7"/><ellipse cx="615.7" cy="306.4" rx="8.0" ry="7.7"/><ellipse cx="616.8" cy="306.4" rx="8.0" ry="7.7"/><ellipse cx="617.9" cy="306.5" rx="8.0" ry="7.7"/><ellipse cx="619" cy="306.5" rx="8.0" ry="7.7"/><ellipse cx="620.1" cy="306.5" rx="8.0" ry="7.7"/><ellipse cx="621.2" cy="306.5" rx="8.0" ry="7.7"/><ellipse cx="622.3" cy="306.5" rx="8.0" ry="7.7"/><ellipse cx="623.4" cy="306.6" rx="8.0" ry="7.7"/><ellipse cx="624.5" cy="306.6" rx="8.0" ry="7.7"/><ellipse cx="625.6" cy="306.6" rx="8.0" ry="7.7"/><ellipse cx="626.7" cy="306.6" rx="8.0" ry="7.7"/><ellipse cx="627.8" cy="306.6" rx="8.0" ry="7.7"/><ellipse cx="628.9" cy="306.7" rx="8.0" ry="7.7"/><ellipse cx="630" cy="306.7" rx="8.0" ry="7.7"/><ellipse cx="631.1" cy="306.7" rx="8.0" ry="7.7"/><ellipse cx="632.2" cy="306.7" rx="8.0" ry="7.7"/><ellipse cx="633.3" cy="306.7" rx="8.0" ry="7.7"/><ellipse cx="634.4" cy="306.8" rx="8.0" ry="7.7"/><ellipse cx="635.5" cy="306.8" rx="8.0" ry="7.7"/><ellipse cx="636.6" cy="306.8" rx="8.0" ry="7.7"/><ellipse cx="637.7" cy="306.8" rx="8.0" ry="7.7"/><ellipse cx="638.8" cy="306.8" rx="8.0" ry="7.7"/><ellipse cx="639.9" cy="306.9" rx="8.0" ry="7.7"/><ellipse cx="641" cy="306.9" rx="8.0" ry="7.7"/><ellipse cx="642.1" cy="306.9" rx="8.0" ry="7.7"/><ellipse cx="643.2" cy="306.9" rx="8.0" ry="7.7"/><ellipse cx="644.3" cy="306.9" rx="8.0" ry="7.7"/><ellipse cx="645.4" cy="307" rx="8.0" ry="7.7"/><ellipse cx="646.5" cy="307" rx="8.0" ry="7.7"/><ellipse cx="647.6" cy="307" rx="8.0" ry="7.7"/><ellipse cx="648.7" cy="307" rx="8.0" ry="7.7"/><ellipse cx="649.8" cy="307.1" rx="8.0" ry="7.7"/><ellipse cx="650.9" cy="307.1" rx="8.0" ry="7.7"/><ellipse cx="652" cy="307.1" rx="8.0" ry="7.7"/><ellipse cx="653.1" cy="307.1" rx="8.0" ry="7.7"/><ellipse cx="654.2" cy="307.1" rx="8.0" ry="7.7"/><ellipse cx="655.3" cy="307.2" rx="8.0" ry="7.7"/><ellipse cx="656.4" cy="307.2" rx="8.0" ry="7.7"/><ellipse cx="657.5" cy="307.2" rx="8.0" ry="7.7"/><ellipse cx="658.6" cy="307.2" rx="8.0" ry="7.7"/><ellipse cx="659.7" cy="307.2" rx="8.0" ry="7.7"/><ellipse cx="660.8" cy="307.3" rx="8.0" ry="7.7"/><ellipse cx="661.9" cy="307.3" rx="8.0" ry="7.7"/><ellipse cx="663" cy="307.3" rx="8.0" ry="7.7"/><ellipse cx="664.1" cy="307.3" rx="8.0" ry="7.7"/><ellipse cx="665.2" cy="307.4" rx="8.0" ry="7.7"/><ellipse cx="666.3" cy="307.4" rx="8.0" ry="7.7"/><ellipse cx="667.4" cy="307.4" rx="8.0" ry="7.7"/><ellipse cx="668.5" cy="307.4" rx="8.0" ry="7.7"/><ellipse cx="669.6" cy="307.4" rx="8.0" ry="7.7"/><ellipse cx="670.7" cy="307.5" rx="8.0" ry="7.7"/><ellipse cx="671.8" cy="307.5" rx="8.0" ry="7.7"/><ellipse cx="672.9" cy="307.5" rx="8.0" ry="7.7"/><ellipse cx="674" cy="307.5" rx="8.0" ry="7.7"/><ellipse cx="675.1" cy="307.6" rx="8.0" ry="7.7"/><ellipse cx="676.2" cy="307.6" rx="8.0" ry="7.7"/><ellipse cx="677.3" cy="307.6" rx="8.0" ry="7.7"/><ellipse cx="678.4" cy="307.6" rx="8.0" ry="7.7"/><ellipse cx="679.5" cy="307.7" rx="8.0" ry="7.7"/><ellipse cx="680.6" cy="307.7" rx="8.0" ry="7.7"/><ellipse cx="681.7" cy="307.7" rx="8.0" ry="7.7"/><ellipse cx="682.8" cy="307.7" rx="8.0" ry="7.7"/><ellipse cx="683.9" cy="307.7" rx="8.0" ry="7.7"/><ellipse cx="685" cy="307.8" rx="8.0" ry="7.7"/><ellipse cx="686.1" cy="307.8" rx="8.0" ry="7.7"/><ellipse cx="687.2" cy="307.8" rx="8.0" ry="7.7"/><ellipse cx="688.3" cy="307.8" rx="8.0" ry="7.7"/><ellipse cx="689.4" cy="307.9" rx="8.0" ry="7.7"/><ellipse cx="690.5" cy="307.9" rx="8.0" ry="7.7"/><ellipse cx="691.6" cy="307.9" rx="8.0" ry="7.7"/><ellipse cx="692.7" cy="307.9" rx="8.0" ry="7.7"/><ellipse cx="693.8" cy="307.9" rx="8.0" ry="7.7"/><ellipse cx="694.9" cy="308" rx="8.0" ry="7.7"/><ellipse cx="696" cy="308" rx="8.0" ry="7.7"/><ellipse cx="697.1" cy="308" rx="8.0" ry="7.7"/><ellipse cx="698.2" cy="308" rx="8.0" ry="7.7"/><ellipse cx="699.3" cy="308.1" rx="8.0" ry="7.7"/><ellipse cx="700.4" cy="308.1" rx="8.0" ry="7.7"/><ellipse cx="701.5" cy="308.1" rx="8.0" ry="7.7"/><ellipse cx="702.6" cy="308.1" rx="8.0" ry="7.7"/><ellipse cx="703.7" cy="308.2" rx="8.0" ry="7.7"/><ellipse cx="704.8" cy="308.2" rx="8.0" ry="7.7"/><ellipse cx="705.9" cy="308.2" rx="8.0" ry="7.7"/><ellipse cx="707" cy="308.2" rx="8.0" ry="7.7"/><ellipse cx="708.1" cy="308.2" rx="8.0" ry="7.7"/><ellipse cx="709.2" cy="308.3" rx="8.0" ry="7.7"/><ellipse cx="710.3" cy="308.3" rx="8.0" ry="7.7"/><ellipse cx="711.4" cy="308.3" rx="8.0" ry="7.7"/><ellipse cx="712.5" cy="308.3" rx="8.0" ry="7.7"/><ellipse cx="713.6" cy="308.4" rx="8.0" ry="7.7"/><ellipse cx="714.7" cy="308.4" rx="8.0" ry="7.7"/><ellipse cx="715.8" cy="308.4" rx="8.0" ry="7.7"/><ellipse cx="716.9" cy="308.4" rx="8.0" ry="7.7"/><ellipse cx="718" cy="308.4" rx="8.0" ry="7.7"/><ellipse cx="719.1" cy="308.5" rx="8.0" ry="7.7"/><ellipse cx="720.2" cy="308.5" rx="8.0" ry="7.7"/><ellipse cx="721.3" cy="308.5" rx="8.0" ry="7.7"/><ellipse cx="722.4" cy="308.5" rx="8.0" ry="7.7"/><ellipse cx="723.5" cy="308.5" rx="8.0" ry="7.7"/><ellipse cx="724.6" cy="308.6" rx="8.0" ry="7.7"/><ellipse cx="725.7" cy="308.6" rx="8.0" ry="7.7"/><ellipse cx="726.8" cy="308.6" rx="8.0" ry="7.7"/><ellipse cx="727.9" cy="308.6" rx="8.0" ry="7.7"/><ellipse cx="729" cy="308.7" rx="8.0" ry="7.7"/><ellipse cx="730.1" cy="308.7" rx="8.0" ry="7.7"/><ellipse cx="731.2" cy="308.7" rx="8.0" ry="7.7"/><ellipse cx="732.3" cy="308.7" rx="8.0" ry="7.7"/><ellipse cx="733.4" cy="308.8" rx="8.0" ry="7.7"/><ellipse cx="734.5" cy="308.8" rx="8.0" ry="7.7"/><ellipse cx="735.5" cy="308.8" rx="8.0" ry="7.7"/></g>
<text transform="translate(136.6 46.4) scale(1.04 1)" font-size="28.5" text-anchor="end" font-weight="bold">1.5</text>
<text transform="translate(136.6 163.4) scale(1.04 1)" font-size="28.5" text-anchor="end" font-weight="bold">1.0</text>
<text transform="translate(136.6 280.4) scale(1.04 1)" font-size="28.5" text-anchor="end" font-weight="bold">0.5</text>
<text transform="translate(136.6 397.4) scale(1.04 1)" font-size="28.5" text-anchor="end" font-weight="bold">0.0</text>
<text transform="translate(136.6 514.4) scale(1.04 1)" font-size="28.5" text-anchor="end" font-weight="bold">-0.5</text>
<text transform="translate(188.7 535.5) scale(1.04 1)" font-size="29.5" text-anchor="middle" font-weight="bold">0</text>
<text transform="translate(371.1 535.5) scale(1.04 1)" font-size="29.5" text-anchor="middle" font-weight="bold">100</text>
<text transform="translate(553.4 535.5) scale(1.04 1)" font-size="29.5" text-anchor="middle" font-weight="bold">200</text>
<text transform="translate(735.8 535.5) scale(1.04 1)" font-size="29.5" text-anchor="middle" font-weight="bold">300</text>
<text transform="translate(462.2 591) scale(1.01 1)" font-size="51" text-anchor="middle" font-weight="bold">T(K)</text>
<text transform="translate(71.1 407.5) scale(1.06 1) rotate(-90)" font-size="50.6" font-weight="bold">M(<tspan dy="4.5">&#215;</tspan><tspan dy="-4.5">10</tspan><tspan font-size="30" dy="-26.3">-3</tspan><tspan dy="26.3">emu/g)</tspan></text>
<line x1="356.9" y1="96.7" x2="445.1" y2="96.7" stroke="#000" stroke-width="2.7" stroke-linecap="butt"/>
<g fill="url(#ka)"><ellipse cx="401" cy="96.7" rx="8.0" ry="7.7"/></g>
<text transform="translate(455.3 109.2) scale(1.04 1)" font-size="37" text-anchor="start" font-weight="bold">x=0.03</text>
<line x1="356.9" y1="144.4" x2="445.1" y2="144.4" stroke="#f00" stroke-width="2.7" stroke-linecap="butt"/>
<g fill="url(#ra)"><ellipse cx="401" cy="144.4" rx="8.0" ry="7.7"/></g>
<text transform="translate(455.3 156.9) scale(1.04 1)" font-size="37" text-anchor="start" font-weight="bold">x=0.09</text>
<line x1="356.9" y1="192.1" x2="445.1" y2="192.1" stroke="#00f" stroke-width="2.7" stroke-linecap="butt"/>
<g fill="url(#ba)"><ellipse cx="401" cy="192.1" rx="8.0" ry="7.7"/></g>
<text transform="translate(455.3 204.6) scale(1.04 1)" font-size="37" text-anchor="start" font-weight="bold">x=0.15</text>
<text transform="translate(825.2 267) scale(1.04 1)" font-size="82.7" text-anchor="start" font-weight="bold">(a)</text>
<line x1="143.2" y1="629.5" x2="143.2" y2="1132.6" stroke="#000" stroke-width="6" stroke-linecap="butt"/>
<line x1="143.2" y1="1132.6" x2="781.4" y2="1132.6" stroke="#000" stroke-width="6" stroke-linecap="butt"/>
<line x1="781.4" y1="1132.6" x2="781.4" y2="629.5" stroke="#000" stroke-width="6" stroke-linecap="butt"/>
<line x1="781.4" y1="629.5" x2="143.2" y2="629.5" stroke="#000" stroke-width="6" stroke-linecap="butt"/>
<line x1="462.5" y1="629.5" x2="462.5" y2="1132.6" stroke="#000" stroke-width="5.6" stroke-linecap="butt"/>
<line x1="143.2" y1="881.5" x2="781.4" y2="881.5" stroke="#000" stroke-width="5.4" stroke-linecap="butt"/>
<line x1="207" y1="1132.6" x2="207" y2="1127.1" stroke="#000" stroke-width="6" stroke-linecap="butt"/>
<line x1="334.7" y1="1132.6" x2="334.7" y2="1127.1" stroke="#000" stroke-width="6" stroke-linecap="butt"/>
<line x1="462.3" y1="1132.6" x2="462.3" y2="1127.1" stroke="#000" stroke-width="6" stroke-linecap="butt"/>
<line x1="589.9" y1="1132.6" x2="589.9" y2="1127.1" stroke="#000" stroke-width="6" stroke-linecap="butt"/>
<line x1="717.6" y1="1132.6" x2="717.6" y2="1127.1" stroke="#000" stroke-width="6" stroke-linecap="butt"/>
<line x1="143.2" y1="1082.3" x2="147.7" y2="1082.3" stroke="#000" stroke-width="4" stroke-linecap="butt"/>
<line x1="143.2" y1="981.7" x2="147.7" y2="981.7" stroke="#000" stroke-width="4" stroke-linecap="butt"/>
<line x1="143.2" y1="881" x2="147.7" y2="881" stroke="#000" stroke-width="4" stroke-linecap="butt"/>
<line x1="143.2" y1="780.4" x2="147.7" y2="780.4" stroke="#000" stroke-width="4" stroke-linecap="butt"/>
<line x1="143.2" y1="679.8" x2="147.7" y2="679.8" stroke="#000" stroke-width="4" stroke-linecap="butt"/>
<text transform="translate(139.3 690.7) scale(1.04 1)" font-size="38.6" text-anchor="end" font-weight="bold">10</text>
<text transform="translate(139.3 791.3) scale(1.04 1)" font-size="38.6" text-anchor="end" font-weight="bold">5</text>
<text transform="translate(139.3 891.9) scale(1.04 1)" font-size="38.6" text-anchor="end" font-weight="bold">0</text>
<text transform="translate(139.3 992.6) scale(1.04 1)" font-size="38.6" text-anchor="end" font-weight="bold">-5</text>
<text transform="translate(139.3 1093.2) scale(1.04 1)" font-size="38.6" text-anchor="end" font-weight="bold">-10</text>
<text transform="translate(206.4 1168.5) scale(1.04 1)" font-size="38.6" text-anchor="middle" font-weight="bold">-2</text>
<text transform="translate(334.1 1168.5) scale(1.04 1)" font-size="38.6" text-anchor="middle" font-weight="bold">-1</text>
<text transform="translate(462.3 1168.5) scale(1.04 1)" font-size="38.6" text-anchor="middle" font-weight="bold">0</text>
<text transform="translate(589.9 1168.5) scale(1.04 1)" font-size="38.6" text-anchor="middle" font-weight="bold">1</text>
<text transform="translate(717.6 1168.5) scale(1.04 1)" font-size="38.6" text-anchor="middle" font-weight="bold">2</text>
<text transform="translate(467.4 1216.5) scale(1.04 1)" font-size="49.6" text-anchor="middle" font-weight="bold">H(T)</text>
<text transform="translate(50.7 1031.4) scale(1.06 1) rotate(-90)" font-size="50.6" font-weight="bold">M(<tspan dy="4.5">&#215;</tspan><tspan dy="-4.5">10</tspan><tspan font-size="30" dy="-26.3">-3</tspan><tspan dy="26.3">emu/g)</tspan></text>
<rect x="194.4" y="641.8" width="256.2" height="195.5" fill="none" stroke="#000" stroke-width="2"/>
<line x1="322.5" y1="641.8" x2="322.5" y2="837.3" stroke="#000" stroke-width="2" stroke-linecap="butt"/>
<line x1="194.4" y1="739.5" x2="450.6" y2="739.5" stroke="#000" stroke-width="2" stroke-linecap="butt"/>
<line x1="200.5" y1="837.3" x2="200.5" y2="834.8" stroke="#000" stroke-width="1.6" stroke-linecap="butt"/>
<line x1="261.5" y1="837.3" x2="261.5" y2="834.8" stroke="#000" stroke-width="1.6" stroke-linecap="butt"/>
<line x1="383.5" y1="837.3" x2="383.5" y2="834.8" stroke="#000" stroke-width="1.6" stroke-linecap="butt"/>
<line x1="444.5" y1="837.3" x2="444.5" y2="834.8" stroke="#000" stroke-width="1.6" stroke-linecap="butt"/>
<line x1="194.4" y1="788.4" x2="196.9" y2="788.4" stroke="#000" stroke-width="1.6" stroke-linecap="butt"/>
<line x1="194.4" y1="690.7" x2="196.9" y2="690.7" stroke="#000" stroke-width="1.6" stroke-linecap="butt"/>
<path d="M387.2 641.8 L322.5 702.8 L277.5 740 L261 753.6 L200.6 825.6 L194.4 831.8" fill="none" stroke="#00f" stroke-width="3.4" stroke-linejoin="round"/>
<path d="M322.5 737.2 L438.7 641.8" fill="none" stroke="#00f" stroke-width="3.4" stroke-linejoin="round"/>
<path d="M262 837.3 L322.5 776.2 L382.5 719 L450.6 647.8" fill="none" stroke="#00f" stroke-width="3.4" stroke-linejoin="round"/>
<text transform="translate(191.6 646.9) scale(1.04 1)" font-size="16" text-anchor="end" font-weight="bold">6</text>
<text transform="translate(191.6 695.8) scale(1.04 1)" font-size="16" text-anchor="end" font-weight="bold">3</text>
<text transform="translate(191.6 744.6) scale(1.04 1)" font-size="16" text-anchor="end" font-weight="bold">0</text>
<text transform="translate(191.6 793.5) scale(1.04 1)" font-size="16" text-anchor="end" font-weight="bold">-3</text>
<text transform="translate(191.6 842.4) scale(1.04 1)" font-size="16" text-anchor="end" font-weight="bold">-6</text>
<text transform="translate(200.5 851.7) scale(1.04 1)" font-size="15.6" text-anchor="middle" font-weight="bold">-100</text>
<text transform="translate(261.5 851.7) scale(1.04 1)" font-size="15.6" text-anchor="middle" font-weight="bold">-50</text>
<text transform="translate(322.5 851.7) scale(1.04 1)" font-size="15.6" text-anchor="middle" font-weight="bold">0</text>
<text transform="translate(383.5 851.7) scale(1.04 1)" font-size="15.6" text-anchor="middle" font-weight="bold">50</text>
<text transform="translate(444.5 851.7) scale(1.04 1)" font-size="15.6" text-anchor="middle" font-weight="bold">100</text>
<text transform="translate(322.8 867.1) scale(1.04 1)" font-size="19.5" text-anchor="middle" font-weight="bold">H(Oe)</text>
<text transform="translate(172.9 796.3) scale(1.1 1) rotate(-90)" font-size="19" font-weight="bold">M(<tspan dy="2.1">&#215;</tspan><tspan dy="-2.1">10</tspan><tspan font-size="12.4" dy="-10.4">&#8722;5</tspan><tspan dy="10.4"> emu/g)</tspan></text>
<text transform="translate(227.3 676.9) scale(1.04 1)" font-size="20.8" text-anchor="start" font-weight="bold">2K</text>
<text transform="translate(364.6 791.2) scale(1.0 1)" font-size="20.5" text-anchor="start" font-weight="bold">x=0.15</text>
<path d="M207 861.5 L219.8 869 L232.5 873 L245.3 876 L258.1 878.6 L270.8 883.7 L283.6 885.1 L296.4 889.1 L309.1 889.7 L321.9 892.5 L334.7 893.3 L347.4 894.9 L360.2 895.5 L373 895.5 L385.7 895.1 L398.5 894.9 L411.2 893.7 L424 892.7 L436.8 891.3 L449.5 888.7 L451.1 887.7 L452.7 886.8 L454.3 885.8 L455.9 884.9 L457.5 883.9 L459.1 883 L460.7 882 L462.3 881 L463.9 880.1 L465.5 879.1 L467.1 878.2 L468.7 877.2 L470.3 876.3 L471.9 875.3 L473.5 874.4 L475.1 873.4 L487.8 871.2 L500.6 869.8 L513.4 868.2 L526.1 867.8 L538.9 867.4 L551.6 867.4 L564.4 867.6 L577.2 868.4 L589.9 869.2 L602.7 872.4 L615.5 873 L628.2 873.6 L641 876.6 L653.8 880 L666.5 883.5 L679.3 886.1 L692.1 891.5 L704.8 892.9 L717.6 898.8" fill="none" stroke="#000" stroke-width="2.2" stroke-linejoin="round"/>
<g fill="url(#kb)"><ellipse cx="232.5" cy="870" rx="6.3" ry="6.05"/><ellipse cx="245.3" cy="872.6" rx="6.3" ry="6.05"/><ellipse cx="602.7" cy="867.6" rx="6.3" ry="6.05"/></g>
<g fill="url(#kb)"><ellipse cx="207" cy="861.5" rx="6.3" ry="6.05"/><ellipse cx="219.8" cy="869" rx="6.3" ry="6.05"/><ellipse cx="232.5" cy="873" rx="6.3" ry="6.05"/><ellipse cx="245.3" cy="876" rx="6.3" ry="6.05"/><ellipse cx="258.1" cy="878.6" rx="6.3" ry="6.05"/><ellipse cx="270.8" cy="883.7" rx="6.3" ry="6.05"/><ellipse cx="283.6" cy="885.1" rx="6.3" ry="6.05"/><ellipse cx="296.4" cy="889.1" rx="6.3" ry="6.05"/><ellipse cx="309.1" cy="889.7" rx="6.3" ry="6.05"/><ellipse cx="321.9" cy="892.5" rx="6.3" ry="6.05"/><ellipse cx="334.7" cy="893.3" rx="6.3" ry="6.05"/><ellipse cx="347.4" cy="894.9" rx="6.3" ry="6.05"/><ellipse cx="360.2" cy="895.5" rx="6.3" ry="6.05"/><ellipse cx="373" cy="895.5" rx="6.3" ry="6.05"/><ellipse cx="385.7" cy="895.1" rx="6.3" ry="6.05"/><ellipse cx="398.5" cy="894.9" rx="6.3" ry="6.05"/><ellipse cx="411.2" cy="893.7" rx="6.3" ry="6.05"/><ellipse cx="424" cy="892.7" rx="6.3" ry="6.05"/><ellipse cx="436.8" cy="891.3" rx="6.3" ry="6.05"/><ellipse cx="449.5" cy="888.7" rx="6.3" ry="6.05"/><ellipse cx="451.1" cy="887.7" rx="6.3" ry="6.05"/><ellipse cx="452.7" cy="886.8" rx="6.3" ry="6.05"/><ellipse cx="454.3" cy="885.8" rx="6.3" ry="6.05"/><ellipse cx="455.9" cy="884.9" rx="6.3" ry="6.05"/><ellipse cx="457.5" cy="883.9" rx="6.3" ry="6.05"/><ellipse cx="459.1" cy="883" rx="6.3" ry="6.05"/><ellipse cx="460.7" cy="882" rx="6.3" ry="6.05"/><ellipse cx="462.3" cy="881" rx="6.3" ry="6.05"/><ellipse cx="463.9" cy="880.1" rx="6.3" ry="6.05"/><ellipse cx="465.5" cy="879.1" rx="6.3" ry="6.05"/><ellipse cx="467.1" cy="878.2" rx="6.3" ry="6.05"/><ellipse cx="468.7" cy="877.2" rx="6.3" ry="6.05"/><ellipse cx="470.3" cy="876.3" rx="6.3" ry="6.05"/><ellipse cx="471.9" cy="875.3" rx="6.3" ry="6.05"/><ellipse cx="473.5" cy="874.4" rx="6.3" ry="6.05"/><ellipse cx="475.1" cy="873.4" rx="6.3" ry="6.05"/><ellipse cx="487.8" cy="871.2" rx="6.3" ry="6.05"/><ellipse cx="500.6" cy="869.8" rx="6.3" ry="6.05"/><ellipse cx="513.4" cy="868.2" rx="6.3" ry="6.05"/><ellipse cx="526.1" cy="867.8" rx="6.3" ry="6.05"/><ellipse cx="538.9" cy="867.4" rx="6.3" ry="6.05"/><ellipse cx="551.6" cy="867.4" rx="6.3" ry="6.05"/><ellipse cx="564.4" cy="867.6" rx="6.3" ry="6.05"/><ellipse cx="577.2" cy="868.4" rx="6.3" ry="6.05"/><ellipse cx="589.9" cy="869.2" rx="6.3" ry="6.05"/><ellipse cx="602.7" cy="872.4" rx="6.3" ry="6.05"/><ellipse cx="615.5" cy="873" rx="6.3" ry="6.05"/><ellipse cx="628.2" cy="873.6" rx="6.3" ry="6.05"/><ellipse cx="641" cy="876.6" rx="6.3" ry="6.05"/><ellipse cx="653.8" cy="880" rx="6.3" ry="6.05"/><ellipse cx="666.5" cy="883.5" rx="6.3" ry="6.05"/><ellipse cx="679.3" cy="886.1" rx="6.3" ry="6.05"/><ellipse cx="692.1" cy="891.5" rx="6.3" ry="6.05"/><ellipse cx="704.8" cy="892.9" rx="6.3" ry="6.05"/><ellipse cx="717.6" cy="898.8" rx="6.3" ry="6.05"/></g>
<path d="M207 1063.8 L219.8 1066.6 L232.5 1073.2 L245.3 1071.8 L258.1 1065.8 L270.8 1067.2 L283.6 1068 L296.4 1059.8 L309.1 1052.1 L321.9 1053.3 L334.7 1042.6 L347.4 1032.8 L360.2 1022.9 L373 1014.7 L385.7 1001 L398.5 986.7 L411.2 970 L424 953.3 L436.8 934.8 L449.5 914.3 L450.8 912 L452.1 909.8 L453.4 907.6 L454.6 905.4 L455.9 901.9 L457.2 898.5 L458.5 895.1 L459.7 891.7 L461 888.3 L462.3 884.8 L462.3 884.8 L463.6 881.4 L464.9 877.9 L466.1 874.4 L467.4 870.9 L468.7 867.4 L470 863.8 L471.2 859.1 L472.5 854.3 L473.8 849.6 L475.1 844.8 L475.1 844.8 L476.3 842.5 L477.6 840.1 L478.9 837.7 L480.2 835.3 L481.4 833 L482.7 830.6 L484 828.2 L485.3 825.8 L486.6 823.5 L487.8 821.1 L487.8 821.1 L500.6 809 L513.4 791.5 L526.1 777 L538.9 765.3 L551.6 751.7 L564.4 742.6 L577.2 733.5 L589.9 725.9 L602.7 718 L615.5 711.8 L628.2 706.8 L641 704.4 L653.8 700.7 L666.5 697.1 L679.3 692.3 L692.1 692.9 L704.8 694.7 L717.6 697.7" fill="none" stroke="#f00" stroke-width="6.2" stroke-linejoin="round"/>
<path d="M207 1063.8 L219.8 1066.6 L232.5 1064.2 L245.3 1070.2 L258.1 1065.8 L270.8 1067.2 L283.6 1061.2 L296.4 1059.8 L309.1 1052.1 L321.9 1047.7 L334.7 1042.6 L347.4 1032.8 L360.2 1022.9 L373 1010.8 L385.7 1001 L398.5 986.7 L411.2 970 L424 953.3 L436.8 934.8 L449.5 914.3 L450.8 909.6 L452.1 905 L453.4 900.4 L454.6 895.8 L455.9 892.4 L457.2 888.9 L458.5 885.5 L459.7 882.1 L461 878.6 L462.3 875.1 L462.3 875.1 L463.6 871.6 L464.9 868.1 L466.1 864.5 L467.4 861 L468.7 857.5 L470 854 L471.2 851.7 L472.5 849.4 L473.8 847.1 L475.1 844.8 L475.1 844.8 L476.3 842.5 L477.6 840.1 L478.9 837.7 L480.2 835.3 L481.4 833 L482.7 830.6 L484 828.2 L485.3 825.8 L486.6 823.5 L487.8 821.1 L487.8 821.1 L500.6 809 L513.4 791.5 L526.1 772 L538.9 759.7 L551.6 746.8 L564.4 735.6 L577.2 726.5 L589.9 718.9 L602.7 710 L615.5 700.5 L628.2 699.1 L641 693.9 L653.8 691.5 L666.5 693.1 L679.3 692.3 L692.1 692.9 L704.8 694.7 L717.6 697.7" fill="none" stroke="#f00" stroke-width="6.2" stroke-linejoin="round"/>
<g fill="#f00"><ellipse cx="207" cy="1063.8" rx="6.35" ry="6.1"/><ellipse cx="219.8" cy="1066.6" rx="6.35" ry="6.1"/><ellipse cx="232.5" cy="1073.2" rx="6.35" ry="6.1"/><ellipse cx="245.3" cy="1071.8" rx="6.35" ry="6.1"/><ellipse cx="258.1" cy="1065.8" rx="6.35" ry="6.1"/><ellipse cx="270.8" cy="1067.2" rx="6.35" ry="6.1"/><ellipse cx="283.6" cy="1068" rx="6.35" ry="6.1"/><ellipse cx="296.4" cy="1059.8" rx="6.35" ry="6.1"/><ellipse cx="309.1" cy="1052.1" rx="6.35" ry="6.1"/><ellipse cx="321.9" cy="1053.3" rx="6.35" ry="6.1"/><ellipse cx="334.7" cy="1042.6" rx="6.35" ry="6.1"/><ellipse cx="347.4" cy="1032.8" rx="6.35" ry="6.1"/><ellipse cx="360.2" cy="1022.9" rx="6.35" ry="6.1"/><ellipse cx="373" cy="1014.7" rx="6.35" ry="6.1"/><ellipse cx="385.7" cy="1001" rx="6.35" ry="6.1"/><ellipse cx="398.5" cy="986.7" rx="6.35" ry="6.1"/><ellipse cx="411.2" cy="970" rx="6.35" ry="6.1"/><ellipse cx="424" cy="953.3" rx="6.35" ry="6.1"/><ellipse cx="436.8" cy="934.8" rx="6.35" ry="6.1"/><ellipse cx="449.5" cy="914.3" rx="6.35" ry="6.1"/><ellipse cx="450.8" cy="912" rx="6.35" ry="6.1"/><ellipse cx="452.1" cy="909.8" rx="6.35" ry="6.1"/><ellipse cx="453.4" cy="907.6" rx="6.35" ry="6.1"/><ellipse cx="454.6" cy="905.4" rx="6.35" ry="6.1"/><ellipse cx="455.9" cy="901.9" rx="6.35" ry="6.1"/><ellipse cx="457.2" cy="898.5" rx="6.35" ry="6.1"/><ellipse cx="458.5" cy="895.1" rx="6.35" ry="6.1"/><ellipse cx="459.7" cy="891.7" rx="6.35" ry="6.1"/><ellipse cx="461" cy="888.3" rx="6.35" ry="6.1"/><ellipse cx="462.3" cy="884.8" rx="6.35" ry="6.1"/><ellipse cx="462.3" cy="884.8" rx="6.35" ry="6.1"/><ellipse cx="463.6" cy="881.4" rx="6.35" ry="6.1"/><ellipse cx="464.9" cy="877.9" rx="6.35" ry="6.1"/><ellipse cx="466.1" cy="874.4" rx="6.35" ry="6.1"/><ellipse cx="467.4" cy="870.9" rx="6.35" ry="6.1"/><ellipse cx="468.7" cy="867.4" rx="6.35" ry="6.1"/><ellipse cx="470" cy="863.8" rx="6.35" ry="6.1"/><ellipse cx="471.2" cy="859.1" rx="6.35" ry="6.1"/><ellipse cx="472.5" cy="854.3" rx="6.35" ry="6.1"/><ellipse cx="473.8" cy="849.6" rx="6.35" ry="6.1"/><ellipse cx="475.1" cy="844.8" rx="6.35" ry="6.1"/><ellipse cx="475.1" cy="844.8" rx="6.35" ry="6.1"/><ellipse cx="476.3" cy="842.5" rx="6.35" ry="6.1"/><ellipse cx="477.6" cy="840.1" rx="6.35" ry="6.1"/><ellipse cx="478.9" cy="837.7" rx="6.35" ry="6.1"/><ellipse cx="480.2" cy="835.3" rx="6.35" ry="6.1"/><ellipse cx="481.4" cy="833" rx="6.35" ry="6.1"/><ellipse cx="482.7" cy="830.6" rx="6.35" ry="6.1"/><ellipse cx="484" cy="828.2" rx="6.35" ry="6.1"/><ellipse cx="485.3" cy="825.8" rx="6.35" ry="6.1"/><ellipse cx="486.6" cy="823.5" rx="6.35" ry="6.1"/><ellipse cx="487.8" cy="821.1" rx="6.35" ry="6.1"/><ellipse cx="487.8" cy="821.1" rx="6.35" ry="6.1"/><ellipse cx="500.6" cy="809" rx="6.35" ry="6.1"/><ellipse cx="513.4" cy="791.5" rx="6.35" ry="6.1"/><ellipse cx="526.1" cy="777" rx="6.35" ry="6.1"/><ellipse cx="538.9" cy="765.3" rx="6.35" ry="6.1"/><ellipse cx="551.6" cy="751.7" rx="6.35" ry="6.1"/><ellipse cx="564.4" cy="742.6" rx="6.35" ry="6.1"/><ellipse cx="577.2" cy="733.5" rx="6.35" ry="6.1"/><ellipse cx="589.9" cy="725.9" rx="6.35" ry="6.1"/><ellipse cx="602.7" cy="718" rx="6.35" ry="6.1"/><ellipse cx="615.5" cy="711.8" rx="6.35" ry="6.1"/><ellipse cx="628.2" cy="706.8" rx="6.35" ry="6.1"/><ellipse cx="641" cy="704.4" rx="6.35" ry="6.1"/><ellipse cx="653.8" cy="700.7" rx="6.35" ry="6.1"/><ellipse cx="666.5" cy="697.1" rx="6.35" ry="6.1"/><ellipse cx="679.3" cy="692.3" rx="6.35" ry="6.1"/><ellipse cx="692.1" cy="692.9" rx="6.35" ry="6.1"/><ellipse cx="704.8" cy="694.7" rx="6.35" ry="6.1"/><ellipse cx="717.6" cy="697.7" rx="6.35" ry="6.1"/></g>
<g fill="#f00"><ellipse cx="207" cy="1063.8" rx="6.35" ry="6.1"/><ellipse cx="219.8" cy="1066.6" rx="6.35" ry="6.1"/><ellipse cx="232.5" cy="1064.2" rx="6.35" ry="6.1"/><ellipse cx="245.3" cy="1070.2" rx="6.35" ry="6.1"/><ellipse cx="258.1" cy="1065.8" rx="6.35" ry="6.1"/><ellipse cx="270.8" cy="1067.2" rx="6.35" ry="6.1"/><ellipse cx="283.6" cy="1061.2" rx="6.35" ry="6.1"/><ellipse cx="296.4" cy="1059.8" rx="6.35" ry="6.1"/><ellipse cx="309.1" cy="1052.1" rx="6.35" ry="6.1"/><ellipse cx="321.9" cy="1047.7" rx="6.35" ry="6.1"/><ellipse cx="334.7" cy="1042.6" rx="6.35" ry="6.1"/><ellipse cx="347.4" cy="1032.8" rx="6.35" ry="6.1"/><ellipse cx="360.2" cy="1022.9" rx="6.35" ry="6.1"/><ellipse cx="373" cy="1010.8" rx="6.35" ry="6.1"/><ellipse cx="385.7" cy="1001" rx="6.35" ry="6.1"/><ellipse cx="398.5" cy="986.7" rx="6.35" ry="6.1"/><ellipse cx="411.2" cy="970" rx="6.35" ry="6.1"/><ellipse cx="424" cy="953.3" rx="6.35" ry="6.1"/><ellipse cx="436.8" cy="934.8" rx="6.35" ry="6.1"/><ellipse cx="449.5" cy="914.3" rx="6.35" ry="6.1"/><ellipse cx="450.8" cy="909.6" rx="6.35" ry="6.1"/><ellipse cx="452.1" cy="905" rx="6.35" ry="6.1"/><ellipse cx="453.4" cy="900.4" rx="6.35" ry="6.1"/><ellipse cx="454.6" cy="895.8" rx="6.35" ry="6.1"/><ellipse cx="455.9" cy="892.4" rx="6.35" ry="6.1"/><ellipse cx="457.2" cy="888.9" rx="6.35" ry="6.1"/><ellipse cx="458.5" cy="885.5" rx="6.35" ry="6.1"/><ellipse cx="459.7" cy="882.1" rx="6.35" ry="6.1"/><ellipse cx="461" cy="878.6" rx="6.35" ry="6.1"/><ellipse cx="462.3" cy="875.1" rx="6.35" ry="6.1"/><ellipse cx="462.3" cy="875.1" rx="6.35" ry="6.1"/><ellipse cx="463.6" cy="871.6" rx="6.35" ry="6.1"/><ellipse cx="464.9" cy="868.1" rx="6.35" ry="6.1"/><ellipse cx="466.1" cy="864.5" rx="6.35" ry="6.1"/><ellipse cx="467.4" cy="861" rx="6.35" ry="6.1"/><ellipse cx="468.7" cy="857.5" rx="6.35" ry="6.1"/><ellipse cx="470" cy="854" rx="6.35" ry="6.1"/><ellipse cx="471.2" cy="851.7" rx="6.35" ry="6.1"/><ellipse cx="472.5" cy="849.4" rx="6.35" ry="6.1"/><ellipse cx="473.8" cy="847.1" rx="6.35" ry="6.1"/><ellipse cx="475.1" cy="844.8" rx="6.35" ry="6.1"/><ellipse cx="475.1" cy="844.8" rx="6.35" ry="6.1"/><ellipse cx="476.3" cy="842.5" rx="6.35" ry="6.1"/><ellipse cx="477.6" cy="840.1" rx="6.35" ry="6.1"/><ellipse cx="478.9" cy="837.7" rx="6.35" ry="6.1"/><ellipse cx="480.2" cy="835.3" rx="6.35" ry="6.1"/><ellipse cx="481.4" cy="833" rx="6.35" ry="6.1"/><ellipse cx="482.7" cy="830.6" rx="6.35" ry="6.1"/><ellipse cx="484" cy="828.2" rx="6.35" ry="6.1"/><ellipse cx="485.3" cy="825.8" rx="6.35" ry="6.1"/><ellipse cx="486.6" cy="823.5" rx="6.35" ry="6.1"/><ellipse cx="487.8" cy="821.1" rx="6.35" ry="6.1"/><ellipse cx="487.8" cy="821.1" rx="6.35" ry="6.1"/><ellipse cx="500.6" cy="809" rx="6.35" ry="6.1"/><ellipse cx="513.4" cy="791.5" rx="6.35" ry="6.1"/><ellipse cx="526.1" cy="772" rx="6.35" ry="6.1"/><ellipse cx="538.9" cy="759.7" rx="6.35" ry="6.1"/><ellipse cx="551.6" cy="746.8" rx="6.35" ry="6.1"/><ellipse cx="564.4" cy="735.6" rx="6.35" ry="6.1"/><ellipse cx="577.2" cy="726.5" rx="6.35" ry="6.1"/><ellipse cx="589.9" cy="718.9" rx="6.35" ry="6.1"/><ellipse cx="602.7" cy="710" rx="6.35" ry="6.1"/><ellipse cx="615.5" cy="700.5" rx="6.35" ry="6.1"/><ellipse cx="628.2" cy="699.1" rx="6.35" ry="6.1"/><ellipse cx="641" cy="693.9" rx="6.35" ry="6.1"/><ellipse cx="653.8" cy="691.5" rx="6.35" ry="6.1"/><ellipse cx="666.5" cy="693.1" rx="6.35" ry="6.1"/><ellipse cx="679.3" cy="692.3" rx="6.35" ry="6.1"/><ellipse cx="692.1" cy="692.9" rx="6.35" ry="6.1"/><ellipse cx="704.8" cy="694.7" rx="6.35" ry="6.1"/><ellipse cx="717.6" cy="697.7" rx="6.35" ry="6.1"/></g>
<path d="M207 976 L219.8 974 L232.5 972.2 L245.3 970.2 L258.1 968.2 L270.8 966 L283.6 963.6 L296.4 960.9 L309.1 958.1 L321.9 954.7 L334.7 951.7 L347.4 947.5 L360.2 943 L373 937.2 L385.7 932.2 L398.5 925.9 L411.2 919.3 L424 911.8 L436.8 904 L449.5 893.7 L451 892.3 L452.5 890.8 L454 889.3 L455.4 887.9 L456.9 886.4 L458.4 885 L459.8 883.5 L461.3 882 L462.3 881 L462.8 880.6 L464.3 879.1 L465.7 877.6 L467.2 876.2 L468.7 874.7 L470.2 873.2 L471.6 871.8 L473.1 870.3 L474.6 868.9 L475.1 868.4 L476 867.6 L477.5 866.4 L479 865.2 L480.5 864 L481.9 862.8 L483.4 861.7 L484.9 860.5 L486.4 859.3 L487.8 858.1 L487.8 858.1 L500.6 850.3 L513.4 842.8 L526.1 836.2 L538.9 829.9 L551.6 824.9 L564.4 819.1 L577.2 814.6 L589.9 810.4 L602.7 807.4 L615.5 804 L628.2 801.2 L641 798.5 L653.8 796.1 L666.5 793.9 L679.3 791.9 L692.1 789.9 L704.8 788.1 L717.6 786.1" fill="none" stroke="#00f" stroke-width="5" stroke-linejoin="round"/>
<g fill="url(#bb)"><ellipse cx="207" cy="976" rx="6.3" ry="6.05"/><ellipse cx="219.8" cy="974" rx="6.3" ry="6.05"/><ellipse cx="232.5" cy="972.2" rx="6.3" ry="6.05"/><ellipse cx="245.3" cy="970.2" rx="6.3" ry="6.05"/><ellipse cx="258.1" cy="968.2" rx="6.3" ry="6.05"/><ellipse cx="270.8" cy="966" rx="6.3" ry="6.05"/><ellipse cx="283.6" cy="963.6" rx="6.3" ry="6.05"/><ellipse cx="296.4" cy="960.9" rx="6.3" ry="6.05"/><ellipse cx="309.1" cy="958.1" rx="6.3" ry="6.05"/><ellipse cx="321.9" cy="954.7" rx="6.3" ry="6.05"/><ellipse cx="334.7" cy="951.7" rx="6.3" ry="6.05"/><ellipse cx="347.4" cy="947.5" rx="6.3" ry="6.05"/><ellipse cx="360.2" cy="943" rx="6.3" ry="6.05"/><ellipse cx="373" cy="937.2" rx="6.3" ry="6.05"/><ellipse cx="385.7" cy="932.2" rx="6.3" ry="6.05"/><ellipse cx="398.5" cy="925.9" rx="6.3" ry="6.05"/><ellipse cx="411.2" cy="919.3" rx="6.3" ry="6.05"/><ellipse cx="424" cy="911.8" rx="6.3" ry="6.05"/><ellipse cx="436.8" cy="904" rx="6.3" ry="6.05"/><ellipse cx="449.5" cy="893.7" rx="6.3" ry="6.05"/><ellipse cx="451" cy="892.3" rx="6.3" ry="6.05"/><ellipse cx="452.5" cy="890.8" rx="6.3" ry="6.05"/><ellipse cx="454" cy="889.3" rx="6.3" ry="6.05"/><ellipse cx="455.4" cy="887.9" rx="6.3" ry="6.05"/><ellipse cx="456.9" cy="886.4" rx="6.3" ry="6.05"/><ellipse cx="458.4" cy="885" rx="6.3" ry="6.05"/><ellipse cx="459.8" cy="883.5" rx="6.3" ry="6.05"/><ellipse cx="461.3" cy="882" rx="6.3" ry="6.05"/><ellipse cx="462.3" cy="881" rx="6.3" ry="6.05"/><ellipse cx="462.8" cy="880.6" rx="6.3" ry="6.05"/><ellipse cx="464.3" cy="879.1" rx="6.3" ry="6.05"/><ellipse cx="465.7" cy="877.6" rx="6.3" ry="6.05"/><ellipse cx="467.2" cy="876.2" rx="6.3" ry="6.05"/><ellipse cx="468.7" cy="874.7" rx="6.3" ry="6.05"/><ellipse cx="470.2" cy="873.2" rx="6.3" ry="6.05"/><ellipse cx="471.6" cy="871.8" rx="6.3" ry="6.05"/><ellipse cx="473.1" cy="870.3" rx="6.3" ry="6.05"/><ellipse cx="474.6" cy="868.9" rx="6.3" ry="6.05"/><ellipse cx="475.1" cy="868.4" rx="6.3" ry="6.05"/><ellipse cx="476" cy="867.6" rx="6.3" ry="6.05"/><ellipse cx="477.5" cy="866.4" rx="6.3" ry="6.05"/><ellipse cx="479" cy="865.2" rx="6.3" ry="6.05"/><ellipse cx="480.5" cy="864" rx="6.3" ry="6.05"/><ellipse cx="481.9" cy="862.8" rx="6.3" ry="6.05"/><ellipse cx="483.4" cy="861.7" rx="6.3" ry="6.05"/><ellipse cx="484.9" cy="860.5" rx="6.3" ry="6.05"/><ellipse cx="486.4" cy="859.3" rx="6.3" ry="6.05"/><ellipse cx="487.8" cy="858.1" rx="6.3" ry="6.05"/><ellipse cx="487.8" cy="858.1" rx="6.3" ry="6.05"/><ellipse cx="500.6" cy="850.3" rx="6.3" ry="6.05"/><ellipse cx="513.4" cy="842.8" rx="6.3" ry="6.05"/><ellipse cx="526.1" cy="836.2" rx="6.3" ry="6.05"/><ellipse cx="538.9" cy="829.9" rx="6.3" ry="6.05"/><ellipse cx="551.6" cy="824.9" rx="6.3" ry="6.05"/><ellipse cx="564.4" cy="819.1" rx="6.3" ry="6.05"/><ellipse cx="577.2" cy="814.6" rx="6.3" ry="6.05"/><ellipse cx="589.9" cy="810.4" rx="6.3" ry="6.05"/><ellipse cx="602.7" cy="807.4" rx="6.3" ry="6.05"/><ellipse cx="615.5" cy="804" rx="6.3" ry="6.05"/><ellipse cx="628.2" cy="801.2" rx="6.3" ry="6.05"/><ellipse cx="641" cy="798.5" rx="6.3" ry="6.05"/><ellipse cx="653.8" cy="796.1" rx="6.3" ry="6.05"/><ellipse cx="666.5" cy="793.9" rx="6.3" ry="6.05"/><ellipse cx="679.3" cy="791.9" rx="6.3" ry="6.05"/><ellipse cx="692.1" cy="789.9" rx="6.3" ry="6.05"/><ellipse cx="704.8" cy="788.1" rx="6.3" ry="6.05"/><ellipse cx="717.6" cy="786.1" rx="6.3" ry="6.05"/></g>
<text transform="translate(499.5 688.6) scale(1.04 1)" font-size="52.3" text-anchor="start" font-weight="normal">2K</text>
<line x1="504.3" y1="964.5" x2="582.8" y2="964.5" stroke="#000" stroke-width="5.6" stroke-linecap="butt"/>
<g fill="url(#kb)"><ellipse cx="542.8" cy="964.5" rx="5.6" ry="5.4"/></g>
<text transform="translate(591.6 975.9) scale(1.04 1)" font-size="32.6" text-anchor="start" font-weight="bold">x=0.03</text>
<line x1="504.3" y1="1007.1" x2="582.8" y2="1007.1" stroke="#f00" stroke-width="5.6" stroke-linecap="butt"/>
<g fill="#f00"><ellipse cx="542.8" cy="1007.1" rx="5.6" ry="5.4"/></g>
<text transform="translate(591.6 1018.5) scale(1.04 1)" font-size="32.6" text-anchor="start" font-weight="bold">x=0.09</text>
<line x1="504.3" y1="1048.9" x2="582.8" y2="1048.9" stroke="#00f" stroke-width="5.6" stroke-linecap="butt"/>
<g fill="url(#bb)"><ellipse cx="542.8" cy="1048.9" rx="5.6" ry="5.4"/></g>
<text transform="translate(591.6 1060.3) scale(1.04 1)" font-size="32.6" text-anchor="start" font-weight="bold">x=0.15</text>
<text transform="translate(823.3 905.3) scale(1.04 1)" font-size="81.9" text-anchor="start" font-weight="bold">(b)</text></svg>
</body></html>
